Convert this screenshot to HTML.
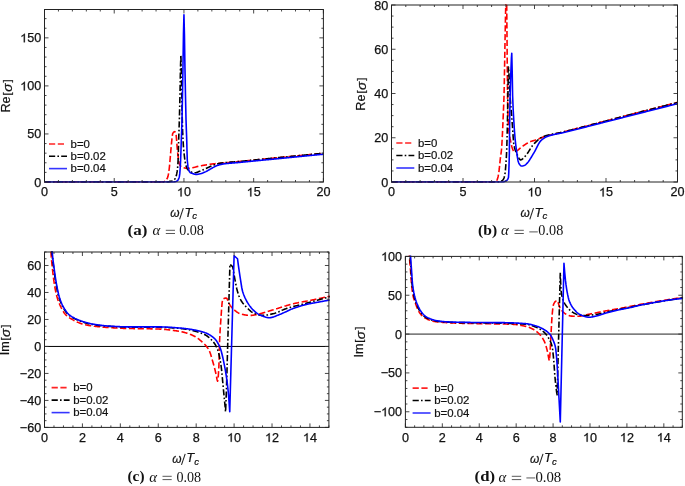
<!DOCTYPE html><html><head><meta charset="utf-8"><style>html,body{margin:0;padding:0;background:#fff;width:685px;height:486px;overflow:hidden;}svg{display:block;will-change:transform}</style></head><body>
<svg width="685" height="486" viewBox="0 0 685 486">
<rect width="685" height="486" fill="#fff"/>
<defs><clipPath id="clipa"><rect x="43.7" y="8.7" width="280.5" height="174.1"/></clipPath></defs>
<g clip-path="url(#clipa)" fill="none" stroke-width="1.6" stroke-linejoin="round">
<path d="M44.5 182 L45 182 L45.5 182 L46 182 L46.5 182 L47.01 182 L47.51 182 L48.01 182 L48.51 182 L49.01 182 L49.51 182 L50.01 182 L50.51 182 L51.01 182 L51.51 182 L52.02 182 L52.52 182 L53.02 182 L53.52 182 L54.02 182 L54.52 182 L55.02 182 L55.52 182 L56.02 182 L56.53 182 L57.03 182 L57.53 182 L58.03 182 L58.53 182 L59.03 182 L59.53 182 L60.03 182 L60.53 182 L61.03 182 L61.54 182 L62.04 182 L62.54 182 L63.04 182 L63.54 182 L64.04 182 L64.54 182 L65.04 182 L65.54 182 L66.05 182 L66.55 182 L67.05 182 L67.55 182 L68.05 182 L68.55 182 L69.05 182 L69.55 182 L70.05 182 L70.55 182 L71.06 182 L71.56 182 L72.06 182 L72.56 182 L73.06 182 L73.56 182 L74.06 182 L74.56 182 L75.06 182 L75.57 182 L76.07 182 L76.57 182 L77.07 182 L77.57 182 L78.07 182 L78.57 182 L79.07 182 L79.57 182 L80.07 182 L80.58 182 L81.08 182 L81.58 182 L82.08 182 L82.58 182 L83.08 182 L83.58 182 L84.08 182 L84.58 182 L85.09 182 L85.59 182 L86.09 182 L86.59 182 L87.09 182 L87.59 182 L88.09 182 L88.59 182 L89.09 182 L89.59 182 L90.1 182 L90.6 182 L91.1 182 L91.6 182 L92.1 182 L92.6 182 L93.1 182 L93.6 182 L94.1 182 L94.61 182 L95.11 182 L95.61 182 L96.11 182 L96.61 182 L97.11 182 L97.61 182 L98.11 182 L98.61 182 L99.11 182 L99.62 182 L100.12 182 L100.62 182 L101.12 182 L101.62 182 L102.12 182 L102.62 182 L103.12 182 L103.62 182 L104.13 182 L104.63 182 L105.13 182 L105.63 182 L106.13 182 L106.63 182 L107.13 182 L107.63 182 L108.13 182 L108.63 182 L109.14 182 L109.64 182 L110.14 182 L110.64 182 L111.14 182 L111.64 182 L112.14 182 L112.64 182 L113.14 182 L113.65 182 L114.15 182 L114.65 182 L115.15 182 L115.65 182 L116.15 182 L116.65 182 L117.15 182 L117.65 182 L118.15 182 L118.66 182 L119.16 182 L119.66 182 L120.16 182 L120.66 182 L121.16 182 L121.66 182 L122.16 182 L122.66 182 L123.17 182 L123.67 182 L124.17 182 L124.67 182 L125.17 182 L125.67 182 L126.17 182 L126.67 182 L127.17 182 L127.67 182 L128.18 182 L128.68 182 L129.18 182 L129.68 182 L130.18 182 L130.68 182 L131.18 182 L131.68 182 L132.18 182 L132.69 182 L133.19 182 L133.69 182 L134.19 182 L134.69 182 L135.19 182 L135.69 182 L136.19 182 L136.69 182 L137.2 182 L137.7 182 L138.2 182 L138.7 182 L139.2 182 L139.7 182 L140.2 182 L140.7 182 L141.2 182 L141.7 182 L142.21 182 L142.71 182 L143.21 182 L143.71 182 L144.21 182 L144.71 182 L145.21 182 L145.71 182 L146.21 182 L146.72 182 L147.22 182 L147.72 182 L148.22 182 L148.72 182 L149.22 182 L149.72 182 L150.22 182 L150.72 182 L151.22 182 L151.73 182 L152.23 182 L152.73 182 L153.23 182 L153.73 182 L154.23 182 L154.73 182 L155.23 182 L155.73 182 L156.24 182 L156.74 182 L157.24 182 L157.74 182 L158.24 182 L158.74 182 L159.24 182 L159.74 182 L160.24 182 L160.8 181.99 L161.36 181.96 L161.92 181.92 L162.47 181.87 L163.03 181.81 L163.59 181.71 L164.15 181.55 L164.71 181.33 L165.31 180.94 L165.91 180.35 L166.52 179.6 L167.22 178.42 L167.91 176.62 L168.47 174.11 L169.03 170.47 L169.52 165.91 L170 160.47 L170.7 152.28 L171.4 144.42 L172.03 137.81 L172.65 133.66 L173.31 132.57 L173.96 131.88 L174.61 131.64 L175.3 132.19 L176 133.66 L176.56 139.34 L177.12 147.12 L177.63 152.31 L178.14 156.99 L178.65 160.47 L179.28 163.38 L179.91 165.18 L180.6 166.08 L181.3 166.62 L181.83 166.94 L182.36 167.2 L182.89 167.43 L183.42 167.62 L183.95 167.78 L184.51 167.94 L185.07 168.09 L185.62 168.23 L186.18 168.32 L186.74 168.35 L187.26 168.34 L187.78 168.32 L188.31 168.28 L188.83 168.23 L189.35 168.17 L189.88 168.1 L190.4 168.04 L190.92 167.97 L191.43 167.9 L191.93 167.82 L192.43 167.73 L192.94 167.63 L193.44 167.52 L193.94 167.41 L194.45 167.29 L194.95 167.16 L195.45 167.04 L195.96 166.91 L196.46 166.78 L196.97 166.65 L197.47 166.52 L197.97 166.39 L198.48 166.27 L198.98 166.16 L199.48 166.05 L199.99 165.95 L200.51 165.85 L201.03 165.76 L201.56 165.67 L202.08 165.58 L202.6 165.49 L203.12 165.4 L203.65 165.31 L204.17 165.23 L204.69 165.15 L205.22 165.06 L205.74 164.98 L206.26 164.89 L206.77 164.81 L207.28 164.73 L207.78 164.64 L208.29 164.56 L208.8 164.48 L209.3 164.4 L209.81 164.32 L210.32 164.24 L210.83 164.16 L211.33 164.09 L211.84 164.03 L212.35 163.97 L212.85 163.91 L213.36 163.85 L213.87 163.8 L214.38 163.74 L214.88 163.69 L215.39 163.64 L215.9 163.59 L216.4 163.55 L216.91 163.5 L217.42 163.45 L218 163.4 L218.58 163.35 L219.16 163.31 L219.74 163.26 L220.32 163.21 L220.9 163.16 L221.41 163.12 L221.92 163.08 L222.43 163.03 L222.94 162.99 L223.45 162.94 L223.96 162.9 L224.47 162.85 L224.97 162.81 L225.48 162.76 L225.99 162.72 L226.5 162.67 L227.01 162.62 L227.52 162.58 L228.03 162.53 L228.54 162.48 L229.05 162.44 L229.55 162.39 L230.06 162.34 L230.57 162.3 L231.08 162.25 L231.59 162.2 L232.1 162.15 L232.61 162.11 L233.12 162.06 L233.62 162.01 L234.13 161.96 L234.64 161.92 L235.15 161.87 L235.66 161.82 L236.17 161.77 L236.68 161.72 L237.19 161.68 L237.69 161.63 L238.2 161.58 L238.71 161.53 L239.22 161.48 L239.73 161.43 L240.24 161.39 L240.74 161.34 L241.25 161.29 L241.76 161.24 L242.27 161.19 L242.77 161.14 L243.28 161.1 L243.79 161.05 L244.29 161 L244.8 160.95 L245.31 160.9 L245.82 160.85 L246.32 160.8 L246.83 160.75 L247.34 160.7 L247.84 160.65 L248.35 160.6 L248.86 160.55 L249.36 160.5 L249.87 160.46 L250.38 160.41 L250.89 160.36 L251.39 160.31 L251.9 160.26 L252.41 160.21 L252.91 160.16 L253.42 160.11 L253.93 160.06 L254.44 160.01 L254.94 159.96 L255.45 159.91 L255.96 159.86 L256.46 159.81 L256.97 159.75 L257.48 159.7 L257.99 159.65 L258.49 159.6 L259 159.55 L259.51 159.5 L260.01 159.45 L260.52 159.4 L261.03 159.35 L261.53 159.3 L262.04 159.25 L262.55 159.2 L263.06 159.15 L263.56 159.1 L264.07 159.05 L264.58 159 L265.08 158.95 L265.59 158.9 L266.1 158.85 L266.61 158.8 L267.11 158.75 L267.62 158.71 L268.13 158.66 L268.63 158.61 L269.14 158.56 L269.65 158.51 L270.16 158.46 L270.66 158.41 L271.17 158.36 L271.68 158.31 L272.18 158.26 L272.69 158.21 L273.2 158.16 L273.71 158.11 L274.21 158.06 L274.72 158.01 L275.23 157.96 L275.73 157.91 L276.24 157.86 L276.75 157.81 L277.25 157.77 L277.76 157.72 L278.27 157.67 L278.78 157.62 L279.28 157.57 L279.79 157.52 L280.3 157.47 L280.8 157.42 L281.31 157.37 L281.82 157.32 L282.33 157.27 L282.83 157.22 L283.34 157.17 L283.85 157.12 L284.35 157.07 L284.86 157.02 L285.37 156.97 L285.88 156.92 L286.38 156.88 L286.89 156.83 L287.4 156.78 L287.9 156.73 L288.41 156.68 L288.92 156.63 L289.42 156.58 L289.93 156.53 L290.44 156.48 L290.95 156.43 L291.45 156.38 L291.96 156.33 L292.47 156.28 L292.97 156.23 L293.48 156.18 L293.99 156.13 L294.5 156.08 L295 156.04 L295.51 155.99 L296.02 155.94 L296.52 155.89 L297.03 155.84 L297.54 155.79 L298.05 155.74 L298.55 155.69 L299.06 155.64 L299.57 155.59 L300.07 155.54 L300.58 155.49 L301.09 155.44 L301.6 155.39 L302.1 155.34 L302.61 155.29 L303.12 155.24 L303.62 155.19 L304.13 155.15 L304.64 155.1 L305.14 155.05 L305.65 155 L306.16 154.95 L306.67 154.9 L307.17 154.85 L307.68 154.8 L308.19 154.75 L308.69 154.7 L309.2 154.65 L309.71 154.6 L310.22 154.55 L310.72 154.5 L311.23 154.45 L311.74 154.4 L312.24 154.35 L312.75 154.3 L313.26 154.25 L313.77 154.21 L314.27 154.16 L314.78 154.11 L315.29 154.06 L315.79 154.01 L316.3 153.96 L316.81 153.91 L317.31 153.86 L317.82 153.81 L318.33 153.76 L318.84 153.71 L319.34 153.66 L319.85 153.61 L320.36 153.56 L320.86 153.51 L321.37 153.46 L321.88 153.41 L322.39 153.36 L322.89 153.32 L323.4 153.27" stroke="#f00" stroke-dasharray="6.2 2.6"/>
<path d="M44.5 182 L45 182 L45.5 182 L46 182 L46.5 182 L47 182 L47.51 182 L48.01 182 L48.51 182 L49.01 182 L49.51 182 L50.01 182 L50.51 182 L51.01 182 L51.51 182 L52.01 182 L52.51 182 L53.01 182 L53.52 182 L54.02 182 L54.52 182 L55.02 182 L55.52 182 L56.02 182 L56.52 182 L57.02 182 L57.52 182 L58.02 182 L58.52 182 L59.03 182 L59.53 182 L60.03 182 L60.53 182 L61.03 182 L61.53 182 L62.03 182 L62.53 182 L63.03 182 L63.53 182 L64.03 182 L64.54 182 L65.04 182 L65.54 182 L66.04 182 L66.54 182 L67.04 182 L67.54 182 L68.04 182 L68.54 182 L69.04 182 L69.54 182 L70.04 182 L70.55 182 L71.05 182 L71.55 182 L72.05 182 L72.55 182 L73.05 182 L73.55 182 L74.05 182 L74.55 182 L75.05 182 L75.55 182 L76.06 182 L76.56 182 L77.06 182 L77.56 182 L78.06 182 L78.56 182 L79.06 182 L79.56 182 L80.06 182 L80.56 182 L81.06 182 L81.57 182 L82.07 182 L82.57 182 L83.07 182 L83.57 182 L84.07 182 L84.57 182 L85.07 182 L85.57 182 L86.07 182 L86.57 182 L87.07 182 L87.58 182 L88.08 182 L88.58 182 L89.08 182 L89.58 182 L90.08 182 L90.58 182 L91.08 182 L91.58 182 L92.08 182 L92.58 182 L93.09 182 L93.59 182 L94.09 182 L94.59 182 L95.09 182 L95.59 182 L96.09 182 L96.59 182 L97.09 182 L97.59 182 L98.09 182 L98.6 182 L99.1 182 L99.6 182 L100.1 182 L100.6 182 L101.1 182 L101.6 182 L102.1 182 L102.6 182 L103.1 182 L103.6 182 L104.1 182 L104.61 182 L105.11 182 L105.61 182 L106.11 182 L106.61 182 L107.11 182 L107.61 182 L108.11 182 L108.61 182 L109.11 182 L109.61 182 L110.12 182 L110.62 182 L111.12 182 L111.62 182 L112.12 182 L112.62 182 L113.12 182 L113.62 182 L114.12 182 L114.62 182 L115.12 182 L115.63 182 L116.13 182 L116.63 182 L117.13 182 L117.63 182 L118.13 182 L118.63 182 L119.13 182 L119.63 182 L120.13 182 L120.63 182 L121.13 182 L121.64 182 L122.14 182 L122.64 182 L123.14 182 L123.64 182 L124.14 182 L124.64 182 L125.14 182 L125.64 182 L126.14 182 L126.64 182 L127.15 182 L127.65 182 L128.15 182 L128.65 182 L129.15 182 L129.65 182 L130.15 182 L130.65 182 L131.15 182 L131.65 182 L132.15 182 L132.66 182 L133.16 182 L133.66 182 L134.16 182 L134.66 182 L135.16 182 L135.66 182 L136.16 182 L136.66 182 L137.16 182 L137.66 182 L138.16 182 L138.67 182 L139.17 182 L139.67 182 L140.17 182 L140.67 182 L141.17 182 L141.67 182 L142.17 182 L142.67 182 L143.17 182 L143.67 182 L144.18 182 L144.68 182 L145.18 182 L145.68 182 L146.18 182 L146.68 182 L147.18 182 L147.68 182 L148.18 182 L148.68 182 L149.18 182 L149.69 182 L150.19 182 L150.69 182 L151.19 182 L151.69 182 L152.19 182 L152.69 182 L153.19 182 L153.69 182 L154.19 182 L154.69 182 L155.19 182 L155.7 182 L156.2 182 L156.7 182 L157.2 182 L157.7 182 L158.2 182 L158.7 182 L159.2 182 L159.7 182 L160.2 182 L160.7 182 L161.21 182 L161.71 182 L162.21 182 L162.71 182 L163.21 182 L163.71 182 L164.21 182 L164.71 182 L165.21 182 L165.71 182 L166.21 182 L166.72 182 L167.22 182 L167.8 181.97 L168.38 181.89 L168.96 181.78 L169.54 181.64 L170.12 181.48 L170.7 181.33 L171.23 181.18 L171.75 181 L172.27 180.8 L172.79 180.56 L173.4 180.24 L174 179.84 L174.61 179.31 L175.23 178.47 L175.86 177.19 L176.28 175.82 L176.7 173.93 L177.12 171.68 L177.54 168.55 L177.81 165.31 L178.09 160.47 L178.37 151.23 L178.65 140.39 L179 130.54 L179.35 120.3 L179.7 106.21 L180.05 90.7 L180.46 68.48 L180.88 55.15 L181.3 70.31 L181.72 94.55 L182.21 116.74 L182.69 133.66 L183.39 145.96 L184.09 153.75 L184.74 159.01 L185.39 163.13 L186.04 165.86 L186.56 167.28 L187.09 168.43 L187.61 169.32 L188.13 169.99 L188.66 170.52 L189.19 170.99 L189.72 171.37 L190.25 171.68 L190.78 171.91 L191.34 172.1 L191.9 172.28 L192.46 172.44 L193.01 172.58 L193.57 172.68 L194.13 172.75 L194.69 172.77 L195.22 172.75 L195.75 172.67 L196.28 172.54 L196.81 172.38 L197.34 172.2 L197.87 171.99 L198.4 171.77 L198.93 171.56 L199.46 171.34 L199.99 171.14 L200.53 170.94 L201.07 170.72 L201.61 170.49 L202.16 170.26 L202.7 170.01 L203.24 169.77 L203.78 169.52 L204.33 169.27 L204.87 169.03 L205.4 168.78 L205.94 168.53 L206.47 168.28 L207.01 168.02 L207.54 167.76 L208.07 167.5 L208.61 167.25 L209.14 166.99 L209.68 166.74 L210.21 166.5 L210.75 166.27 L211.28 166.05 L211.81 165.83 L212.34 165.62 L212.86 165.41 L213.39 165.21 L213.92 165.01 L214.44 164.83 L214.97 164.64 L215.5 164.48 L216.02 164.32 L216.57 164.16 L217.11 164.01 L217.65 163.86 L218.19 163.72 L218.74 163.59 L219.28 163.46 L219.82 163.35 L220.36 163.25 L220.9 163.16 L221.41 163.09 L221.92 163.02 L222.43 162.96 L222.94 162.89 L223.45 162.83 L223.96 162.77 L224.47 162.71 L224.97 162.66 L225.48 162.61 L225.99 162.56 L226.5 162.51 L227.01 162.46 L227.52 162.41 L228.03 162.37 L228.54 162.33 L229.05 162.28 L229.55 162.24 L230.06 162.2 L230.57 162.16 L231.08 162.12 L231.59 162.08 L232.1 162.05 L232.61 162.01 L233.12 161.97 L233.62 161.93 L234.13 161.89 L234.64 161.86 L235.15 161.82 L235.66 161.78 L236.17 161.74 L236.68 161.7 L237.19 161.66 L237.69 161.62 L238.2 161.57 L238.71 161.53 L239.22 161.48 L239.73 161.43 L240.24 161.39 L240.74 161.34 L241.25 161.29 L241.76 161.24 L242.27 161.19 L242.77 161.14 L243.28 161.1 L243.79 161.05 L244.29 161 L244.8 160.95 L245.31 160.9 L245.82 160.85 L246.32 160.8 L246.83 160.75 L247.34 160.7 L247.84 160.65 L248.35 160.6 L248.86 160.55 L249.36 160.5 L249.87 160.46 L250.38 160.41 L250.89 160.36 L251.39 160.31 L251.9 160.26 L252.41 160.21 L252.91 160.16 L253.42 160.11 L253.93 160.06 L254.44 160.01 L254.94 159.96 L255.45 159.91 L255.96 159.86 L256.46 159.81 L256.97 159.75 L257.48 159.7 L257.99 159.65 L258.49 159.6 L259 159.55 L259.51 159.5 L260.01 159.45 L260.52 159.4 L261.03 159.35 L261.53 159.3 L262.04 159.25 L262.55 159.2 L263.06 159.15 L263.56 159.1 L264.07 159.05 L264.58 159 L265.08 158.95 L265.59 158.9 L266.1 158.85 L266.61 158.8 L267.11 158.75 L267.62 158.71 L268.13 158.66 L268.63 158.61 L269.14 158.56 L269.65 158.51 L270.16 158.46 L270.66 158.41 L271.17 158.36 L271.68 158.31 L272.18 158.26 L272.69 158.21 L273.2 158.16 L273.71 158.11 L274.21 158.06 L274.72 158.01 L275.23 157.96 L275.73 157.91 L276.24 157.86 L276.75 157.81 L277.25 157.77 L277.76 157.72 L278.27 157.67 L278.78 157.62 L279.28 157.57 L279.79 157.52 L280.3 157.47 L280.8 157.42 L281.31 157.37 L281.82 157.32 L282.33 157.27 L282.83 157.22 L283.34 157.17 L283.85 157.12 L284.35 157.07 L284.86 157.02 L285.37 156.97 L285.88 156.92 L286.38 156.88 L286.89 156.83 L287.4 156.78 L287.9 156.73 L288.41 156.68 L288.92 156.63 L289.42 156.58 L289.93 156.53 L290.44 156.48 L290.95 156.43 L291.45 156.38 L291.96 156.33 L292.47 156.28 L292.97 156.23 L293.48 156.18 L293.99 156.13 L294.5 156.08 L295 156.04 L295.51 155.99 L296.02 155.94 L296.52 155.89 L297.03 155.84 L297.54 155.79 L298.05 155.74 L298.55 155.69 L299.06 155.64 L299.57 155.59 L300.07 155.54 L300.58 155.49 L301.09 155.44 L301.6 155.39 L302.1 155.34 L302.61 155.29 L303.12 155.24 L303.62 155.19 L304.13 155.15 L304.64 155.1 L305.14 155.05 L305.65 155 L306.16 154.95 L306.67 154.9 L307.17 154.85 L307.68 154.8 L308.19 154.75 L308.69 154.7 L309.2 154.65 L309.71 154.6 L310.22 154.55 L310.72 154.5 L311.23 154.45 L311.74 154.4 L312.24 154.35 L312.75 154.3 L313.26 154.25 L313.77 154.21 L314.27 154.16 L314.78 154.11 L315.29 154.06 L315.79 154.01 L316.3 153.96 L316.81 153.91 L317.31 153.86 L317.82 153.81 L318.33 153.76 L318.84 153.71 L319.34 153.66 L319.85 153.61 L320.36 153.56 L320.86 153.51 L321.37 153.46 L321.88 153.41 L322.39 153.36 L322.89 153.32 L323.4 153.27" stroke="#000" stroke-dasharray="6.2 2.2 1.6 2.2"/>
<path d="M44.5 182 L45 182 L45.5 182 L46 182 L46.5 182 L47 182 L47.5 182 L48 182 L48.5 182 L49 182 L49.5 182 L50 182 L50.5 182 L51 182 L51.5 182 L52 182 L52.5 182 L53 182 L53.5 182 L54 182 L54.5 182 L55 182 L55.5 182 L56 182 L56.5 182 L57 182 L57.5 182 L58 182 L58.5 182 L59 182 L59.5 182 L60 182 L60.5 182 L61 182 L61.5 182 L62 182 L62.5 182 L63 182 L63.5 182 L64 182 L64.5 182 L65 182 L65.5 182 L66 182 L66.5 182 L67 182 L67.5 182 L68 182 L68.5 182 L69 182 L69.5 182 L70 182 L70.5 182 L71 182 L71.5 182 L72 182 L72.5 182 L73 182 L73.5 182 L74 182 L74.5 182 L75 182 L75.5 182 L76 182 L76.5 182 L77 182 L77.5 182 L78 182 L78.5 182 L79 182 L79.5 182 L80 182 L80.5 182 L81 182 L81.5 182 L82 182 L82.5 182 L83 182 L83.5 182 L84 182 L84.5 182 L85 182 L85.5 182 L86 182 L86.5 182 L87 182 L87.5 182 L88 182 L88.5 182 L89 182 L89.5 182 L90 182 L90.5 182 L91 182 L91.5 182 L92 182 L92.5 182 L93 182 L93.5 182 L94 182 L94.5 182 L95 182 L95.5 182 L96 182 L96.5 182 L97 182 L97.5 182 L98 182 L98.5 182 L99 182 L99.5 182 L100 182 L100.5 182 L101 182 L101.5 182 L102 182 L102.5 182 L103 182 L103.5 182 L104 182 L104.5 182 L105 182 L105.5 182 L106 182 L106.5 182 L107 182 L107.5 182 L108 182 L108.5 182 L109 182 L109.5 182 L110 182 L110.5 182 L111 182 L111.5 182 L112 182 L112.5 182 L113 182 L113.5 182 L114 182 L114.5 182 L115 182 L115.5 182 L116 182 L116.5 182 L117 182 L117.5 182 L118 182 L118.5 182 L119 182 L119.5 182 L120 182 L120.5 182 L121 182 L121.5 182 L122 182 L122.5 182 L123 182 L123.5 182 L124 182 L124.5 182 L125 182 L125.5 182 L126 182 L126.5 182 L127 182 L127.5 182 L128 182 L128.5 182 L129 182 L129.5 182 L130 182 L130.5 182 L131 182 L131.5 182 L132 182 L132.5 182 L133 182 L133.5 182 L134 182 L134.5 182 L135 182 L135.5 182 L136 182 L136.5 182 L137 182 L137.5 182 L138 182 L138.5 182 L139 182 L139.5 182 L140 182 L140.5 182 L141 182 L141.5 182 L142 182 L142.5 182 L143 182 L143.5 182 L144 182 L144.5 182 L145 182 L145.5 182 L146 182 L146.5 182 L147 182 L147.5 182 L148 182 L148.5 182 L149 182 L149.5 182 L150 182 L150.5 182 L151 182 L151.5 182 L152 182 L152.5 182 L153 182 L153.5 182 L154 182 L154.5 182 L155 182 L155.5 182 L156 182 L156.5 182 L157 182 L157.5 182 L158 182 L158.5 182 L159 182 L159.5 182 L160 182 L160.5 182 L161 182 L161.5 182 L162 182 L162.5 182 L163 182 L163.5 182 L164 182 L164.5 182 L165 182 L165.5 182 L166 182 L166.5 182 L167 182 L167.5 182 L168 182 L168.5 182 L169 182 L169.5 182 L170 182 L170.52 182 L171.03 182 L171.54 181.99 L172.05 181.98 L172.56 181.97 L173.07 181.96 L173.58 181.94 L174.1 181.92 L174.61 181.9 L175.2 181.82 L175.79 181.63 L176.38 181.36 L176.98 181.04 L177.54 180.58 L178.09 179.89 L178.58 179 L179.07 177.68 L179.42 176.21 L179.77 173.93 L180.18 168.55 L180.6 160.47 L180.95 151.13 L181.3 140.39 L181.65 131.07 L182 120.3 L182.49 95.55 L182.97 66.68 L183.46 34.14 L183.95 14.79 L184.44 34.57 L184.93 66.68 L185.48 95.61 L186.04 120.3 L186.39 130.63 L186.74 140.39 L187.02 151.79 L187.3 160.47 L187.99 166.89 L188.69 169.89 L189.2 171.15 L189.71 172.05 L190.23 172.58 L190.83 172.92 L191.43 173.16 L192.04 173.35 L192.54 173.53 L193.05 173.71 L193.55 173.88 L194.06 174.05 L194.57 174.19 L195.07 174.31 L195.58 174.38 L196.08 174.41 L196.64 174.39 L197.2 174.34 L197.76 174.27 L198.31 174.17 L198.87 174.06 L199.43 173.95 L199.99 173.83 L200.53 173.71 L201.07 173.56 L201.61 173.39 L202.16 173.2 L202.7 173 L203.24 172.79 L203.78 172.56 L204.33 172.33 L204.87 172.1 L205.4 171.86 L205.94 171.6 L206.47 171.32 L207.01 171.03 L207.54 170.73 L208.07 170.41 L208.61 170.1 L209.14 169.78 L209.68 169.46 L210.21 169.15 L210.75 168.84 L211.28 168.55 L211.81 168.26 L212.34 167.96 L212.86 167.67 L213.39 167.37 L213.92 167.08 L214.44 166.8 L214.97 166.53 L215.5 166.28 L216.02 166.05 L216.6 165.81 L217.19 165.58 L217.77 165.36 L218.35 165.15 L218.93 164.97 L219.51 164.8 L220.09 164.64 L220.67 164.5 L221.25 164.36 L221.83 164.23 L222.41 164.12 L223 164.03 L223.5 163.96 L224.01 163.89 L224.52 163.82 L225.02 163.75 L225.53 163.69 L226.04 163.63 L226.55 163.57 L227.05 163.52 L227.56 163.46 L228.07 163.41 L228.57 163.36 L229.08 163.31 L229.59 163.26 L230.1 163.22 L230.6 163.17 L231.11 163.13 L231.62 163.09 L232.12 163.04 L232.63 163 L233.14 162.96 L233.64 162.92 L234.15 162.88 L234.66 162.84 L235.17 162.8 L235.67 162.75 L236.18 162.71 L236.69 162.67 L237.19 162.63 L237.7 162.58 L238.21 162.54 L238.72 162.49 L239.22 162.44 L239.73 162.4 L240.24 162.35 L240.74 162.3 L241.25 162.25 L241.76 162.2 L242.27 162.15 L242.77 162.1 L243.28 162.05 L243.79 162 L244.29 161.95 L244.8 161.9 L245.31 161.85 L245.82 161.8 L246.32 161.75 L246.83 161.7 L247.34 161.65 L247.84 161.6 L248.35 161.55 L248.86 161.51 L249.36 161.46 L249.87 161.41 L250.38 161.36 L250.89 161.31 L251.39 161.26 L251.9 161.21 L252.41 161.16 L252.91 161.11 L253.42 161.06 L253.93 161.01 L254.44 160.96 L254.94 160.91 L255.45 160.86 L255.96 160.81 L256.46 160.76 L256.97 160.71 L257.48 160.66 L257.99 160.62 L258.49 160.57 L259 160.52 L259.51 160.47 L260.01 160.42 L260.52 160.37 L261.03 160.32 L261.53 160.27 L262.04 160.22 L262.55 160.17 L263.06 160.12 L263.56 160.07 L264.07 160.02 L264.58 159.97 L265.08 159.92 L265.59 159.87 L266.1 159.82 L266.61 159.77 L267.11 159.73 L267.62 159.68 L268.13 159.63 L268.63 159.58 L269.14 159.53 L269.65 159.48 L270.16 159.43 L270.66 159.38 L271.17 159.33 L271.68 159.28 L272.18 159.23 L272.69 159.18 L273.2 159.13 L273.71 159.08 L274.21 159.03 L274.72 158.98 L275.23 158.93 L275.73 158.89 L276.24 158.84 L276.75 158.79 L277.25 158.74 L277.76 158.69 L278.27 158.64 L278.78 158.59 L279.28 158.54 L279.79 158.49 L280.3 158.44 L280.8 158.39 L281.31 158.34 L281.82 158.29 L282.33 158.24 L282.83 158.19 L283.34 158.14 L283.85 158.09 L284.35 158.04 L284.86 158 L285.37 157.95 L285.88 157.9 L286.38 157.85 L286.89 157.8 L287.4 157.75 L287.9 157.7 L288.41 157.65 L288.92 157.6 L289.42 157.55 L289.93 157.5 L290.44 157.45 L290.95 157.4 L291.45 157.35 L291.96 157.3 L292.47 157.25 L292.97 157.2 L293.48 157.15 L293.99 157.1 L294.5 157.06 L295 157.01 L295.51 156.96 L296.02 156.91 L296.52 156.86 L297.03 156.81 L297.54 156.76 L298.05 156.71 L298.55 156.66 L299.06 156.61 L299.57 156.56 L300.07 156.51 L300.58 156.46 L301.09 156.41 L301.6 156.36 L302.1 156.31 L302.61 156.26 L303.12 156.21 L303.62 156.16 L304.13 156.11 L304.64 156.06 L305.14 156.01 L305.65 155.96 L306.16 155.92 L306.67 155.87 L307.17 155.82 L307.68 155.77 L308.19 155.72 L308.69 155.67 L309.2 155.62 L309.71 155.57 L310.22 155.52 L310.72 155.47 L311.23 155.42 L311.74 155.37 L312.24 155.32 L312.75 155.27 L313.26 155.22 L313.77 155.17 L314.27 155.12 L314.78 155.07 L315.29 155.02 L315.79 154.97 L316.3 154.92 L316.81 154.87 L317.31 154.82 L317.82 154.77 L318.33 154.72 L318.84 154.67 L319.34 154.62 L319.85 154.57 L320.36 154.53 L320.86 154.48 L321.37 154.43 L321.88 154.38 L322.39 154.33 L322.89 154.28 L323.4 154.23" stroke="#00f"/>
</g>
<path d="M44.5 182 v-4 M44.5 9.5 v4 M58.45 182 v-2 M58.45 9.5 v2 M72.39 182 v-2 M72.39 9.5 v2 M86.33 182 v-2 M86.33 9.5 v2 M100.28 182 v-2 M100.28 9.5 v2 M114.22 182 v-4 M114.22 9.5 v4 M128.17 182 v-2 M128.17 9.5 v2 M142.12 182 v-2 M142.12 9.5 v2 M156.06 182 v-2 M156.06 9.5 v2 M170 182 v-2 M170 9.5 v2 M183.95 182 v-4 M183.95 9.5 v4 M197.89 182 v-2 M197.89 9.5 v2 M211.84 182 v-2 M211.84 9.5 v2 M225.78 182 v-2 M225.78 9.5 v2 M239.73 182 v-2 M239.73 9.5 v2 M253.67 182 v-4 M253.67 9.5 v4 M267.62 182 v-2 M267.62 9.5 v2 M281.56 182 v-2 M281.56 9.5 v2 M295.51 182 v-2 M295.51 9.5 v2 M309.45 182 v-2 M309.45 9.5 v2 M323.4 182 v-4 M323.4 9.5 v4 M44.5 182 h4 M323.4 182 h-4 M44.5 172.39 h2 M323.4 172.39 h-2 M44.5 162.78 h2 M323.4 162.78 h-2 M44.5 153.17 h2 M323.4 153.17 h-2 M44.5 143.56 h2 M323.4 143.56 h-2 M44.5 133.95 h4 M323.4 133.95 h-4 M44.5 124.34 h2 M323.4 124.34 h-2 M44.5 114.73 h2 M323.4 114.73 h-2 M44.5 105.12 h2 M323.4 105.12 h-2 M44.5 95.51 h2 M323.4 95.51 h-2 M44.5 85.9 h4 M323.4 85.9 h-4 M44.5 76.29 h2 M323.4 76.29 h-2 M44.5 66.68 h2 M323.4 66.68 h-2 M44.5 57.07 h2 M323.4 57.07 h-2 M44.5 47.46 h2 M323.4 47.46 h-2 M44.5 37.85 h4 M323.4 37.85 h-4 M44.5 28.24 h2 M323.4 28.24 h-2 M44.5 18.63 h2 M323.4 18.63 h-2" stroke="#333" stroke-width="0.9" fill="none"/>
<rect x="44.5" y="9.5" width="278.9" height="172.5" fill="none" stroke="#222" stroke-width="1"/>
<g font-family='"Liberation Sans", sans-serif' font-size="12.6" fill="#111" stroke="#111" stroke-width="0.25">
<text x="41" y="196.4">0</text>
<text x="110.72" y="196.4">5</text>
<text x="176.94" y="196.4"> 0</text><path transform="translate(176.94 196.4) scale(0.00615 -0.00615)" d="M763 0H583V1098Q518 1038 412 979Q306 920 222 890V1057Q373 1124 486 1221Q599 1318 646 1409H763Z" stroke-width="40.63"/>
<text x="246.67" y="196.4"> 5</text><path transform="translate(246.67 196.4) scale(0.00615 -0.00615)" d="M763 0H583V1098Q518 1038 412 979Q306 920 222 890V1057Q373 1124 486 1221Q599 1318 646 1409H763Z" stroke-width="40.63"/>
<text x="316.39" y="196.4">20</text>
<text x="34.19" y="186.5">0</text>
<text x="27.18" y="138.45">50</text>
<text x="20.18" y="90.4"> 00</text><path transform="translate(20.18 90.4) scale(0.00615 -0.00615)" d="M763 0H583V1098Q518 1038 412 979Q306 920 222 890V1057Q373 1124 486 1221Q599 1318 646 1409H763Z" stroke-width="40.63"/>
<text x="20.18" y="42.35"> 50</text><path transform="translate(20.18 42.35) scale(0.00615 -0.00615)" d="M763 0H583V1098Q518 1038 412 979Q306 920 222 890V1057Q373 1124 486 1221Q599 1318 646 1409H763Z" stroke-width="40.63"/>
</g>
<g fill="#111" stroke="#111" stroke-width="0.2" font-family='"Liberation Sans", sans-serif'>
<text transform="translate(10.4 0) rotate(-90)" x="-112.53" y="0" font-size="12.6">Re</text>
<text transform="translate(10.6 0) rotate(-90)" x="-95.4" y="0" font-size="11.5">[</text>
<text transform="translate(11.7 0) rotate(-90) scale(1.14 1)" x="-80.56" y="0" font-size="12.0" font-style="italic">σ</text>
<text transform="translate(10.6 0) rotate(-90)" x="-82.54" y="0" font-size="11.5">]</text>
</g>
<text x="170.3" y="217" font-family='"Liberation Sans", sans-serif' font-size="11.9" font-style="italic" fill="#111" stroke="#111" stroke-width="0.2">ω</text>
<line x1="179.6" y1="219.3" x2="183.3" y2="208.2" stroke="#222" stroke-width="1.05"/>
<text x="184.4" y="216.7" font-family='"Liberation Sans", sans-serif' font-size="13" font-style="italic" fill="#111" stroke="#111" stroke-width="0.2">T<tspan font-size="9.6" dy="2.6">c</tspan></text>
<line x1="49" y1="144" x2="64.5" y2="144" stroke="#ff2424" stroke-width="1.6" stroke-dasharray="6.2 2.6"/>
<text x="70.6" y="147.8" font-family='"Liberation Sans", sans-serif' font-size="11.4" fill="#111" stroke="#111" stroke-width="0.2">b=0</text>
<line x1="49" y1="156.3" x2="67" y2="156.3" stroke="#000" stroke-width="1.6" stroke-dasharray="6.2 2.2 1.6 2.2"/>
<text x="70.6" y="160.1" font-family='"Liberation Sans", sans-serif' font-size="11.4" fill="#111" stroke="#111" stroke-width="0.2">b=0.02</text>
<line x1="49" y1="168.6" x2="67" y2="168.6" stroke="#3535ff" stroke-width="1.6"/>
<text x="70.6" y="172.4" font-family='"Liberation Sans", sans-serif' font-size="11.4" fill="#111" stroke="#111" stroke-width="0.2">b=0.04</text>
<text transform="translate(127.45 234.7) scale(1.130 1)" font-family='"Liberation Serif", serif' font-size="15.1" font-weight="bold" fill="#111">(a)</text>
<text x="152.56" y="235.3" font-family='"Liberation Serif", serif' font-size="14.8" font-style="italic" fill="#111">α</text>
<line x1="165.8" y1="230.3" x2="175" y2="230.3" stroke="#222" stroke-width="0.75"/>
<line x1="165.8" y1="233.5" x2="175" y2="233.5" stroke="#222" stroke-width="0.75"/>
<text transform="translate(179.16 235.3) scale(1.011 1)" font-family='"Liberation Serif", serif' font-size="14.0" fill="#111">0.08</text>
<defs><clipPath id="clipb"><rect x="390.7" y="4.2" width="287.6" height="178.6"/></clipPath></defs>
<g clip-path="url(#clipb)" fill="none" stroke-width="1.6" stroke-linejoin="round">
<path d="M391.5 182 L392 182 L392.5 182 L393 182 L393.5 182 L394.01 182 L394.51 182 L395.01 182 L395.51 182 L396.01 182 L396.51 182 L397.01 182 L397.51 182 L398.02 182 L398.52 182 L399.02 182 L399.52 182 L400.02 182 L400.52 182 L401.02 182 L401.52 182 L402.03 182 L402.53 182 L403.03 182 L403.53 182 L404.03 182 L404.53 182 L405.03 182 L405.53 182 L406.03 182 L406.54 182 L407.04 182 L407.54 182 L408.04 182 L408.54 182 L409.04 182 L409.54 182 L410.04 182 L410.55 182 L411.05 182 L411.55 182 L412.05 182 L412.55 182 L413.05 182 L413.55 182 L414.05 182 L414.56 182 L415.06 182 L415.56 182 L416.06 182 L416.56 182 L417.06 182 L417.56 182 L418.06 182 L418.56 182 L419.07 182 L419.57 182 L420.07 182 L420.57 182 L421.07 182 L421.57 182 L422.07 182 L422.57 182 L423.08 182 L423.58 182 L424.08 182 L424.58 182 L425.08 182 L425.58 182 L426.08 182 L426.58 182 L427.09 182 L427.59 182 L428.09 182 L428.59 182 L429.09 182 L429.59 182 L430.09 182 L430.59 182 L431.09 182 L431.6 182 L432.1 182 L432.6 182 L433.1 182 L433.6 182 L434.1 182 L434.6 182 L435.1 182 L435.61 182 L436.11 182 L436.61 182 L437.11 182 L437.61 182 L438.11 182 L438.61 182 L439.11 182 L439.62 182 L440.12 182 L440.62 182 L441.12 182 L441.62 182 L442.12 182 L442.62 182 L443.12 182 L443.62 182 L444.13 182 L444.63 182 L445.13 182 L445.63 182 L446.13 182 L446.63 182 L447.13 182 L447.63 182 L448.14 182 L448.64 182 L449.14 182 L449.64 182 L450.14 182 L450.64 182 L451.14 182 L451.64 182 L452.15 182 L452.65 182 L453.15 182 L453.65 182 L454.15 182 L454.65 182 L455.15 182 L455.65 182 L456.15 182 L456.66 182 L457.16 182 L457.66 182 L458.16 182 L458.66 182 L459.16 182 L459.66 182 L460.16 182 L460.67 182 L461.17 182 L461.67 182 L462.17 182 L462.67 182 L463.17 182 L463.67 182 L464.17 182 L464.68 182 L465.18 182 L465.68 182 L466.18 182 L466.68 182 L467.18 182 L467.68 182 L468.18 182 L468.68 182 L469.19 182 L469.69 182 L470.19 182 L470.69 182 L471.19 182 L471.69 182 L472.19 182 L472.69 182 L473.2 182 L473.7 182 L474.2 182 L474.7 182 L475.2 182 L475.7 182 L476.2 182 L476.7 182 L477.21 182 L477.71 182 L478.21 182 L478.71 182 L479.21 182 L479.71 182 L480.21 182 L480.71 182 L481.21 182 L481.72 182 L482.22 182 L482.72 182 L483.22 182 L483.72 182 L484.22 182 L484.72 182 L485.22 182 L485.73 182 L486.23 182 L486.73 182 L487.23 182 L487.73 182 L488.23 182 L488.73 182 L489.23 182 L489.74 182 L490.24 182 L490.74 182 L491.24 182 L491.74 182 L492.24 182 L492.74 182 L493.24 182 L493.75 182 L494.28 181.95 L494.82 181.81 L495.35 181.6 L495.89 181.34 L496.61 180.62 L497.32 179.34 L498.04 176.92 L498.75 173.15 L499.27 168.96 L499.8 163.58 L500.32 158.55 L500.89 154.54 L501.47 149.92 L501.97 142.73 L502.47 133.32 L502.97 122.39 L503.47 110.09 L503.75 103.26 L504.04 95.05 L504.54 69.44 L505.04 39.96 L505.47 17.31 L505.9 0.58 L506.19 -5.45 L506.47 -8.28 L506.76 9.14 L507.04 40.18 L507.33 74.56 L507.62 102.35 L507.97 116.44 L508.33 124.47 L508.9 131.28 L509.48 135.54 L509.98 138.2 L510.48 140.41 L511.1 143.4 L511.72 146.27 L512.34 148.37 L512.87 149.65 L513.41 150.79 L513.94 151.6 L514.48 151.91 L515.05 151.83 L515.62 151.61 L516.2 151.3 L516.77 150.94 L517.34 150.58 L517.91 150.18 L518.48 149.7 L519.06 149.17 L519.63 148.64 L520.2 148.15 L520.77 147.69 L521.34 147.23 L521.92 146.78 L522.49 146.34 L523.06 145.94 L523.57 145.59 L524.07 145.24 L524.58 144.89 L525.08 144.55 L525.59 144.22 L526.1 143.89 L526.6 143.57 L527.11 143.26 L527.61 142.97 L528.12 142.69 L528.63 142.43 L529.13 142.18 L529.64 141.95 L530.15 141.74 L530.67 141.55 L531.19 141.36 L531.71 141.19 L532.22 141.03 L532.74 140.87 L533.26 140.71 L533.77 140.56 L534.29 140.41 L534.81 140.25 L535.33 140.09 L535.84 139.92 L536.36 139.74 L536.88 139.55 L537.39 139.35 L537.91 139.14 L538.43 138.93 L538.94 138.71 L539.46 138.49 L539.98 138.27 L540.5 138.06 L541.01 137.85 L541.53 137.64 L542.05 137.44 L542.56 137.26 L543.08 137.09 L543.58 136.93 L544.08 136.77 L544.58 136.62 L545.08 136.47 L545.58 136.32 L546.08 136.18 L546.58 136.04 L547.08 135.9 L547.58 135.76 L548.09 135.63 L548.59 135.5 L549.09 135.37 L549.59 135.24 L550.09 135.11 L550.59 134.99 L551.09 134.86 L551.59 134.74 L552.09 134.62 L552.59 134.5 L553.09 134.38 L553.59 134.26 L554.09 134.14 L554.59 134.03 L555.09 133.91 L555.59 133.79 L556.09 133.68 L556.59 133.56 L557.09 133.44 L557.59 133.33 L558.1 133.21 L558.6 133.09 L559.1 132.98 L559.6 132.86 L560.1 132.74 L560.6 132.62 L561.1 132.5 L561.6 132.37 L562.1 132.25 L562.6 132.12 L563.1 132 L563.6 131.87 L564.11 131.74 L564.61 131.61 L565.12 131.48 L565.62 131.35 L566.13 131.22 L566.63 131.09 L567.14 130.96 L567.64 130.83 L568.15 130.7 L568.65 130.58 L569.16 130.45 L569.66 130.32 L570.17 130.19 L570.67 130.06 L571.18 129.93 L571.68 129.8 L572.18 129.67 L572.69 129.54 L573.19 129.41 L573.7 129.28 L574.2 129.15 L574.71 129.02 L575.21 128.89 L575.72 128.76 L576.22 128.63 L576.73 128.5 L577.23 128.37 L577.74 128.24 L578.24 128.11 L578.75 127.98 L579.25 127.85 L579.76 127.72 L580.26 127.59 L580.76 127.46 L581.27 127.33 L581.77 127.2 L582.28 127.07 L582.78 126.94 L583.29 126.81 L583.79 126.68 L584.3 126.55 L584.8 126.42 L585.31 126.29 L585.81 126.16 L586.32 126.03 L586.82 125.9 L587.33 125.77 L587.83 125.64 L588.34 125.51 L588.84 125.38 L589.34 125.24 L589.85 125.11 L590.35 124.98 L590.86 124.85 L591.36 124.72 L591.87 124.59 L592.37 124.46 L592.88 124.33 L593.38 124.2 L593.89 124.07 L594.39 123.94 L594.9 123.81 L595.4 123.68 L595.91 123.55 L596.41 123.42 L596.92 123.29 L597.42 123.16 L597.92 123.03 L598.43 122.89 L598.93 122.76 L599.44 122.63 L599.94 122.5 L600.45 122.37 L600.95 122.24 L601.46 122.11 L601.96 121.98 L602.47 121.85 L602.97 121.72 L603.48 121.59 L603.98 121.46 L604.49 121.33 L604.99 121.2 L605.5 121.07 L606 120.94 L606.5 120.8 L607.01 120.67 L607.51 120.54 L608.01 120.41 L608.52 120.28 L609.02 120.15 L609.52 120.02 L610.03 119.89 L610.53 119.76 L611.04 119.63 L611.54 119.5 L612.04 119.37 L612.55 119.24 L613.05 119.11 L613.55 118.98 L614.06 118.85 L614.56 118.72 L615.06 118.58 L615.57 118.45 L616.07 118.32 L616.57 118.19 L617.08 118.06 L617.58 117.93 L618.08 117.8 L618.59 117.67 L619.09 117.54 L619.6 117.41 L620.1 117.28 L620.6 117.14 L621.11 117.01 L621.61 116.88 L622.11 116.75 L622.62 116.62 L623.12 116.49 L623.62 116.36 L624.13 116.23 L624.63 116.1 L625.13 115.97 L625.64 115.83 L626.14 115.7 L626.64 115.57 L627.15 115.44 L627.65 115.31 L628.15 115.18 L628.66 115.05 L629.16 114.92 L629.67 114.79 L630.17 114.66 L630.67 114.52 L631.18 114.39 L631.68 114.26 L632.18 114.13 L632.69 114 L633.19 113.87 L633.69 113.74 L634.2 113.61 L634.7 113.48 L635.2 113.34 L635.71 113.21 L636.21 113.08 L636.71 112.95 L637.22 112.82 L637.72 112.69 L638.23 112.56 L638.73 112.43 L639.23 112.3 L639.74 112.17 L640.24 112.04 L640.74 111.9 L641.25 111.77 L641.75 111.64 L642.25 111.51 L642.76 111.38 L643.26 111.25 L643.76 111.12 L644.27 110.99 L644.77 110.86 L645.27 110.73 L645.78 110.6 L646.28 110.46 L646.79 110.33 L647.29 110.2 L647.79 110.07 L648.3 109.94 L648.8 109.81 L649.3 109.68 L649.81 109.55 L650.31 109.42 L650.81 109.29 L651.32 109.16 L651.82 109.02 L652.32 108.89 L652.83 108.76 L653.33 108.63 L653.83 108.5 L654.34 108.37 L654.84 108.24 L655.35 108.11 L655.85 107.98 L656.35 107.85 L656.86 107.72 L657.36 107.59 L657.86 107.45 L658.37 107.32 L658.87 107.19 L659.37 107.06 L659.88 106.93 L660.38 106.8 L660.88 106.67 L661.39 106.54 L661.89 106.41 L662.39 106.28 L662.9 106.15 L663.4 106.01 L663.9 105.88 L664.41 105.75 L664.91 105.62 L665.42 105.49 L665.92 105.36 L666.42 105.23 L666.93 105.1 L667.43 104.97 L667.93 104.84 L668.44 104.71 L668.94 104.57 L669.44 104.44 L669.95 104.31 L670.45 104.18 L670.95 104.05 L671.46 103.92 L671.96 103.79 L672.46 103.66 L672.97 103.53 L673.47 103.4 L673.98 103.27 L674.48 103.14 L674.98 103 L675.49 102.87 L675.99 102.74 L676.49 102.61 L677 102.48 L677.5 102.35" stroke="#f00" stroke-dasharray="6.2 2.6"/>
<path d="M391.5 182 L392 182 L392.5 182 L393 182 L393.5 182 L394.01 182 L394.51 182 L395.01 182 L395.51 182 L396.01 182 L396.51 182 L397.01 182 L397.51 182 L398.02 182 L398.52 182 L399.02 182 L399.52 182 L400.02 182 L400.52 182 L401.02 182 L401.52 182 L402.02 182 L402.53 182 L403.03 182 L403.53 182 L404.03 182 L404.53 182 L405.03 182 L405.53 182 L406.03 182 L406.54 182 L407.04 182 L407.54 182 L408.04 182 L408.54 182 L409.04 182 L409.54 182 L410.04 182 L410.54 182 L411.05 182 L411.55 182 L412.05 182 L412.55 182 L413.05 182 L413.55 182 L414.05 182 L414.55 182 L415.05 182 L415.56 182 L416.06 182 L416.56 182 L417.06 182 L417.56 182 L418.06 182 L418.56 182 L419.06 182 L419.57 182 L420.07 182 L420.57 182 L421.07 182 L421.57 182 L422.07 182 L422.57 182 L423.07 182 L423.57 182 L424.08 182 L424.58 182 L425.08 182 L425.58 182 L426.08 182 L426.58 182 L427.08 182 L427.58 182 L428.09 182 L428.59 182 L429.09 182 L429.59 182 L430.09 182 L430.59 182 L431.09 182 L431.59 182 L432.09 182 L432.6 182 L433.1 182 L433.6 182 L434.1 182 L434.6 182 L435.1 182 L435.6 182 L436.1 182 L436.61 182 L437.11 182 L437.61 182 L438.11 182 L438.61 182 L439.11 182 L439.61 182 L440.11 182 L440.61 182 L441.12 182 L441.62 182 L442.12 182 L442.62 182 L443.12 182 L443.62 182 L444.12 182 L444.62 182 L445.12 182 L445.63 182 L446.13 182 L446.63 182 L447.13 182 L447.63 182 L448.13 182 L448.63 182 L449.13 182 L449.64 182 L450.14 182 L450.64 182 L451.14 182 L451.64 182 L452.14 182 L452.64 182 L453.14 182 L453.64 182 L454.15 182 L454.65 182 L455.15 182 L455.65 182 L456.15 182 L456.65 182 L457.15 182 L457.65 182 L458.16 182 L458.66 182 L459.16 182 L459.66 182 L460.16 182 L460.66 182 L461.16 182 L461.66 182 L462.16 182 L462.67 182 L463.17 182 L463.67 182 L464.17 182 L464.67 182 L465.17 182 L465.67 182 L466.17 182 L466.68 182 L467.18 182 L467.68 182 L468.18 182 L468.68 182 L469.18 182 L469.68 182 L470.18 182 L470.68 182 L471.19 182 L471.69 182 L472.19 182 L472.69 182 L473.19 182 L473.69 182 L474.19 182 L474.69 182 L475.2 182 L475.7 182 L476.2 182 L476.7 182 L477.2 182 L477.7 182 L478.2 182 L478.7 182 L479.2 182 L479.71 182 L480.21 182 L480.71 182 L481.21 182 L481.71 182 L482.21 182 L482.71 182 L483.21 182 L483.71 182 L484.22 182 L484.72 182 L485.22 182 L485.72 182 L486.22 182 L486.72 182 L487.22 182 L487.72 182 L488.23 182 L488.73 182 L489.23 182 L489.73 182 L490.23 182 L490.73 182 L491.23 182 L491.73 182 L492.23 182 L492.74 182 L493.24 182 L493.74 182 L494.24 182 L494.74 182 L495.24 182 L495.74 182 L496.24 182 L496.75 182 L497.25 182 L497.75 182 L498.25 182 L498.75 182 L499.37 181.89 L499.99 181.63 L500.61 181.34 L501.22 181.06 L501.82 180.75 L502.43 180.34 L503.04 179.79 L503.61 178.91 L504.18 177.45 L504.76 175.36 L505.33 171.05 L505.9 164.3 L506.33 157.89 L506.76 148.81 L507.04 139.17 L507.33 126.69 L507.62 111.7 L507.9 95.71 L508.19 77.6 L508.47 66.95 L508.76 70.16 L509.05 75.8 L509.62 87.11 L510.19 97.92 L510.91 107.23 L511.62 115.62 L512.05 121.11 L512.48 126.69 L513.12 136.39 L513.76 143.94 L514.48 147.53 L515.2 149.92 L515.77 151.5 L516.34 152.8 L516.88 153.95 L517.41 155.15 L517.95 156.34 L518.48 157.45 L519.02 158.42 L519.56 159.19 L520.09 159.69 L520.63 159.88 L521.18 159.78 L521.74 159.53 L522.29 159.14 L522.85 158.65 L523.4 158.1 L523.95 157.5 L524.51 156.91 L525.06 156.34 L525.58 155.79 L526.11 155.17 L526.63 154.5 L527.15 153.78 L527.67 153.02 L528.19 152.24 L528.71 151.42 L529.23 150.6 L529.76 149.77 L530.28 148.94 L530.8 148.13 L531.32 147.33 L531.84 146.56 L532.36 145.83 L532.88 145.15 L533.41 144.51 L533.93 143.94 L534.44 143.42 L534.95 142.9 L535.47 142.38 L535.98 141.87 L536.49 141.37 L537.01 140.88 L537.52 140.4 L538.03 139.94 L538.55 139.5 L539.06 139.08 L539.57 138.68 L540.09 138.3 L540.6 137.95 L541.11 137.63 L541.62 137.34 L542.14 137.09 L542.65 136.87 L543.16 136.67 L543.67 136.48 L544.18 136.29 L544.7 136.12 L545.21 135.95 L545.72 135.79 L546.23 135.63 L546.74 135.48 L547.25 135.34 L547.76 135.2 L548.27 135.07 L548.79 134.94 L549.3 134.81 L549.81 134.69 L550.32 134.58 L550.83 134.47 L551.34 134.36 L551.85 134.25 L552.36 134.15 L552.88 134.05 L553.39 133.95 L553.9 133.85 L554.41 133.75 L554.92 133.66 L555.43 133.56 L555.94 133.47 L556.45 133.37 L556.97 133.28 L557.48 133.18 L557.99 133.09 L558.5 132.99 L559.01 132.89 L559.52 132.79 L560.03 132.68 L560.54 132.58 L561.06 132.47 L561.57 132.36 L562.08 132.24 L562.59 132.12 L563.1 132 L563.6 131.87 L564.11 131.75 L564.61 131.62 L565.12 131.5 L565.62 131.37 L566.13 131.25 L566.63 131.12 L567.14 130.99 L567.64 130.87 L568.15 130.74 L568.65 130.61 L569.16 130.49 L569.66 130.36 L570.17 130.23 L570.67 130.11 L571.18 129.98 L571.68 129.85 L572.18 129.72 L572.69 129.59 L573.19 129.46 L573.7 129.34 L574.2 129.21 L574.71 129.08 L575.21 128.95 L575.72 128.82 L576.22 128.69 L576.73 128.56 L577.23 128.43 L577.74 128.3 L578.24 128.17 L578.75 128.04 L579.25 127.91 L579.76 127.78 L580.26 127.65 L580.76 127.52 L581.27 127.39 L581.77 127.26 L582.28 127.12 L582.78 126.99 L583.29 126.86 L583.79 126.73 L584.3 126.6 L584.8 126.47 L585.31 126.34 L585.81 126.2 L586.32 126.07 L586.82 125.94 L587.33 125.81 L587.83 125.68 L588.34 125.55 L588.84 125.41 L589.34 125.28 L589.85 125.15 L590.35 125.02 L590.86 124.89 L591.36 124.75 L591.87 124.62 L592.37 124.49 L592.88 124.36 L593.38 124.23 L593.89 124.09 L594.39 123.96 L594.9 123.83 L595.4 123.7 L595.91 123.57 L596.41 123.43 L596.92 123.3 L597.42 123.17 L597.92 123.04 L598.43 122.91 L598.93 122.77 L599.44 122.64 L599.94 122.51 L600.45 122.38 L600.95 122.25 L601.46 122.12 L601.96 121.98 L602.47 121.85 L602.97 121.72 L603.48 121.59 L603.98 121.46 L604.49 121.33 L604.99 121.2 L605.5 121.07 L606 120.94 L606.5 120.8 L607.01 120.67 L607.51 120.54 L608.01 120.41 L608.52 120.28 L609.02 120.15 L609.52 120.02 L610.03 119.89 L610.53 119.76 L611.04 119.63 L611.54 119.5 L612.04 119.37 L612.55 119.23 L613.05 119.1 L613.55 118.97 L614.06 118.84 L614.56 118.71 L615.06 118.58 L615.57 118.45 L616.07 118.32 L616.57 118.18 L617.08 118.05 L617.58 117.92 L618.08 117.79 L618.59 117.66 L619.09 117.53 L619.6 117.4 L620.1 117.27 L620.6 117.13 L621.11 117 L621.61 116.87 L622.11 116.74 L622.62 116.61 L623.12 116.48 L623.62 116.34 L624.13 116.21 L624.63 116.08 L625.13 115.95 L625.64 115.82 L626.14 115.69 L626.64 115.56 L627.15 115.43 L627.65 115.29 L628.15 115.16 L628.66 115.03 L629.16 114.9 L629.67 114.77 L630.17 114.64 L630.67 114.51 L631.18 114.38 L631.68 114.25 L632.18 114.12 L632.69 113.98 L633.19 113.85 L633.69 113.72 L634.2 113.59 L634.7 113.46 L635.2 113.33 L635.71 113.2 L636.21 113.07 L636.71 112.94 L637.22 112.81 L637.72 112.68 L638.23 112.55 L638.73 112.42 L639.23 112.29 L639.74 112.16 L640.24 112.03 L640.74 111.9 L641.25 111.77 L641.75 111.64 L642.25 111.51 L642.76 111.38 L643.26 111.25 L643.76 111.13 L644.27 111 L644.77 110.87 L645.27 110.74 L645.78 110.61 L646.28 110.48 L646.79 110.35 L647.29 110.22 L647.79 110.09 L648.3 109.97 L648.8 109.84 L649.3 109.71 L649.81 109.58 L650.31 109.45 L650.81 109.32 L651.32 109.19 L651.82 109.07 L652.32 108.94 L652.83 108.81 L653.33 108.68 L653.83 108.55 L654.34 108.42 L654.84 108.3 L655.35 108.17 L655.85 108.04 L656.35 107.91 L656.86 107.78 L657.36 107.65 L657.86 107.53 L658.37 107.4 L658.87 107.27 L659.37 107.14 L659.88 107.02 L660.38 106.89 L660.88 106.76 L661.39 106.63 L661.89 106.5 L662.39 106.38 L662.9 106.25 L663.4 106.12 L663.9 105.99 L664.41 105.87 L664.91 105.74 L665.42 105.61 L665.92 105.49 L666.42 105.36 L666.93 105.23 L667.43 105.1 L667.93 104.98 L668.44 104.85 L668.94 104.72 L669.44 104.6 L669.95 104.47 L670.45 104.34 L670.95 104.22 L671.46 104.09 L671.96 103.96 L672.46 103.84 L672.97 103.71 L673.47 103.58 L673.98 103.46 L674.48 103.33 L674.98 103.2 L675.49 103.08 L675.99 102.95 L676.49 102.82 L677 102.7 L677.5 102.57" stroke="#000" stroke-dasharray="6.2 2.2 1.6 2.2"/>
<path d="M391.5 182 L392 182 L392.5 182 L393 182 L393.5 182 L394 182 L394.5 182 L395 182 L395.5 182 L396 182 L396.5 182 L397 182 L397.5 182 L398 182 L398.5 182 L399 182 L399.5 182 L400 182 L400.5 182 L401 182 L401.5 182 L402 182 L402.5 182 L403 182 L403.5 182 L404 182 L404.5 182 L405 182 L405.51 182 L406.01 182 L406.51 182 L407.01 182 L407.51 182 L408.01 182 L408.51 182 L409.01 182 L409.51 182 L410.01 182 L410.51 182 L411.01 182 L411.51 182 L412.01 182 L412.51 182 L413.01 182 L413.51 182 L414.01 182 L414.51 182 L415.01 182 L415.51 182 L416.01 182 L416.51 182 L417.01 182 L417.51 182 L418.01 182 L418.51 182 L419.01 182 L419.51 182 L420.01 182 L420.51 182 L421.01 182 L421.51 182 L422.01 182 L422.51 182 L423.01 182 L423.51 182 L424.01 182 L424.51 182 L425.01 182 L425.51 182 L426.01 182 L426.51 182 L427.01 182 L427.51 182 L428.01 182 L428.51 182 L429.01 182 L429.51 182 L430.01 182 L430.51 182 L431.01 182 L431.51 182 L432.01 182 L432.51 182 L433.01 182 L433.52 182 L434.02 182 L434.52 182 L435.02 182 L435.52 182 L436.02 182 L436.52 182 L437.02 182 L437.52 182 L438.02 182 L438.52 182 L439.02 182 L439.52 182 L440.02 182 L440.52 182 L441.02 182 L441.52 182 L442.02 182 L442.52 182 L443.02 182 L443.52 182 L444.02 182 L444.52 182 L445.02 182 L445.52 182 L446.02 182 L446.52 182 L447.02 182 L447.52 182 L448.02 182 L448.52 182 L449.02 182 L449.52 182 L450.02 182 L450.52 182 L451.02 182 L451.52 182 L452.02 182 L452.52 182 L453.02 182 L453.52 182 L454.02 182 L454.52 182 L455.02 182 L455.52 182 L456.02 182 L456.52 182 L457.02 182 L457.52 182 L458.02 182 L458.52 182 L459.02 182 L459.52 182 L460.02 182 L460.52 182 L461.02 182 L461.53 182 L462.03 182 L462.53 182 L463.03 182 L463.53 182 L464.03 182 L464.53 182 L465.03 182 L465.53 182 L466.03 182 L466.53 182 L467.03 182 L467.53 182 L468.03 182 L468.53 182 L469.03 182 L469.53 182 L470.03 182 L470.53 182 L471.03 182 L471.53 182 L472.03 182 L472.53 182 L473.03 182 L473.53 182 L474.03 182 L474.53 182 L475.03 182 L475.53 182 L476.03 182 L476.53 182 L477.03 182 L477.53 182 L478.03 182 L478.53 182 L479.03 182 L479.53 182 L480.03 182 L480.53 182 L481.03 182 L481.53 182 L482.03 182 L482.53 182 L483.03 182 L483.53 182 L484.03 182 L484.53 182 L485.03 182 L485.53 182 L486.03 182 L486.53 182 L487.03 182 L487.53 182 L488.03 182 L488.53 182 L489.03 182 L489.54 182 L490.04 182 L490.54 182 L491.04 182 L491.54 182 L492.04 182 L492.54 182 L493.04 182 L493.54 182 L494.04 182 L494.54 182 L495.04 182 L495.54 182 L496.04 182 L496.54 182 L497.04 182 L497.54 182 L498.04 182 L498.54 182 L499.04 182 L499.54 182 L500.04 182 L500.54 182 L501.04 182 L501.54 182 L502.04 182 L502.54 182 L503.04 182 L503.54 181.94 L504.04 181.78 L504.54 181.56 L505.04 181.34 L505.61 181.07 L506.19 180.74 L506.76 180.32 L507.33 179.79 L507.9 179.09 L508.47 177.57 L508.76 172.79 L509.05 164.3 L509.19 159.57 L509.33 153.24 L509.55 135.11 L509.76 115.62 L509.98 103.21 L510.19 93.5 L510.62 78.48 L511.05 66.95 L511.41 57.99 L511.76 53.23 L512.19 71.22 L512.62 95.71 L513.19 109.79 L513.76 120.05 L514.48 131.24 L515.2 139.96 L515.91 146.1 L516.62 151.25 L517.34 156.8 L518.06 160.98 L518.77 163.03 L519.49 164.3 L520.02 164.96 L520.56 165.52 L521.09 165.92 L521.63 166.07 L522.2 166.03 L522.77 165.94 L523.35 165.79 L523.92 165.61 L524.49 165.41 L525.1 165.09 L525.71 164.61 L526.31 164.03 L526.92 163.41 L527.42 162.88 L527.92 162.28 L528.42 161.63 L528.92 160.93 L529.42 160.2 L529.92 159.43 L530.42 158.63 L530.92 157.82 L531.43 156.98 L531.93 156.14 L532.43 155.29 L532.93 154.45 L533.43 153.61 L533.93 152.8 L534.43 151.95 L534.93 151.04 L535.43 150.09 L535.93 149.11 L536.43 148.11 L536.93 147.1 L537.43 146.1 L537.93 145.13 L538.43 144.2 L538.93 143.32 L539.43 142.51 L539.93 141.78 L540.43 141.15 L540.93 140.63 L541.44 140.17 L541.94 139.74 L542.44 139.34 L542.94 138.95 L543.44 138.59 L543.94 138.24 L544.44 137.92 L544.94 137.62 L545.44 137.33 L545.94 137.07 L546.44 136.82 L546.94 136.6 L547.44 136.39 L547.94 136.2 L548.45 136.02 L548.95 135.85 L549.46 135.69 L549.96 135.54 L550.47 135.39 L550.97 135.25 L551.48 135.11 L551.98 134.99 L552.49 134.86 L552.99 134.74 L553.5 134.63 L554.01 134.52 L554.51 134.41 L555.02 134.31 L555.52 134.2 L556.03 134.1 L556.53 134.01 L557.04 133.91 L557.54 133.81 L558.05 133.72 L558.55 133.62 L559.06 133.52 L559.56 133.42 L560.07 133.32 L560.57 133.22 L561.08 133.12 L561.58 133.01 L562.09 132.9 L562.59 132.78 L563.1 132.66 L563.6 132.54 L564.11 132.42 L564.61 132.29 L565.12 132.17 L565.62 132.05 L566.13 131.93 L566.63 131.8 L567.14 131.68 L567.64 131.56 L568.15 131.43 L568.65 131.31 L569.16 131.18 L569.66 131.06 L570.17 130.93 L570.67 130.81 L571.18 130.68 L571.68 130.56 L572.18 130.43 L572.69 130.31 L573.19 130.18 L573.7 130.05 L574.2 129.93 L574.71 129.8 L575.21 129.67 L575.72 129.55 L576.22 129.42 L576.73 129.29 L577.23 129.16 L577.74 129.04 L578.24 128.91 L578.75 128.78 L579.25 128.65 L579.76 128.53 L580.26 128.4 L580.76 128.27 L581.27 128.14 L581.77 128.01 L582.28 127.88 L582.78 127.76 L583.29 127.63 L583.79 127.5 L584.3 127.37 L584.8 127.24 L585.31 127.11 L585.81 126.98 L586.32 126.85 L586.82 126.72 L587.33 126.59 L587.83 126.47 L588.34 126.34 L588.84 126.21 L589.34 126.08 L589.85 125.95 L590.35 125.82 L590.86 125.69 L591.36 125.56 L591.87 125.43 L592.37 125.3 L592.88 125.17 L593.38 125.04 L593.89 124.91 L594.39 124.78 L594.9 124.65 L595.4 124.52 L595.91 124.39 L596.41 124.27 L596.92 124.14 L597.42 124.01 L597.92 123.88 L598.43 123.75 L598.93 123.62 L599.44 123.49 L599.94 123.36 L600.45 123.23 L600.95 123.1 L601.46 122.97 L601.96 122.85 L602.47 122.72 L602.97 122.59 L603.48 122.46 L603.98 122.33 L604.49 122.2 L604.99 122.08 L605.5 121.95 L606 121.82 L606.5 121.69 L607.01 121.56 L607.51 121.44 L608.01 121.31 L608.52 121.18 L609.02 121.05 L609.52 120.93 L610.03 120.8 L610.53 120.67 L611.04 120.54 L611.54 120.42 L612.04 120.29 L612.55 120.16 L613.05 120.03 L613.55 119.91 L614.06 119.78 L614.56 119.65 L615.06 119.52 L615.57 119.4 L616.07 119.27 L616.57 119.14 L617.08 119.01 L617.58 118.88 L618.08 118.76 L618.59 118.63 L619.09 118.5 L619.6 118.37 L620.1 118.25 L620.6 118.12 L621.11 117.99 L621.61 117.86 L622.11 117.73 L622.62 117.61 L623.12 117.48 L623.62 117.35 L624.13 117.22 L624.63 117.09 L625.13 116.97 L625.64 116.84 L626.14 116.71 L626.64 116.58 L627.15 116.46 L627.65 116.33 L628.15 116.2 L628.66 116.07 L629.16 115.94 L629.67 115.82 L630.17 115.69 L630.67 115.56 L631.18 115.43 L631.68 115.31 L632.18 115.18 L632.69 115.05 L633.19 114.92 L633.69 114.79 L634.2 114.67 L634.7 114.54 L635.2 114.41 L635.71 114.28 L636.21 114.15 L636.71 114.03 L637.22 113.9 L637.72 113.77 L638.23 113.64 L638.73 113.52 L639.23 113.39 L639.74 113.26 L640.24 113.13 L640.74 113 L641.25 112.88 L641.75 112.75 L642.25 112.62 L642.76 112.49 L643.26 112.37 L643.76 112.24 L644.27 112.11 L644.77 111.98 L645.27 111.85 L645.78 111.73 L646.28 111.6 L646.79 111.47 L647.29 111.34 L647.79 111.22 L648.3 111.09 L648.8 110.96 L649.3 110.83 L649.81 110.7 L650.31 110.58 L650.81 110.45 L651.32 110.32 L651.82 110.19 L652.32 110.07 L652.83 109.94 L653.33 109.81 L653.83 109.68 L654.34 109.55 L654.84 109.43 L655.35 109.3 L655.85 109.17 L656.35 109.04 L656.86 108.92 L657.36 108.79 L657.86 108.66 L658.37 108.53 L658.87 108.4 L659.37 108.28 L659.88 108.15 L660.38 108.02 L660.88 107.89 L661.39 107.77 L661.89 107.64 L662.39 107.51 L662.9 107.38 L663.4 107.25 L663.9 107.13 L664.41 107 L664.91 106.87 L665.42 106.74 L665.92 106.62 L666.42 106.49 L666.93 106.36 L667.43 106.23 L667.93 106.11 L668.44 105.98 L668.94 105.85 L669.44 105.72 L669.95 105.59 L670.45 105.47 L670.95 105.34 L671.46 105.21 L671.96 105.08 L672.46 104.96 L672.97 104.83 L673.47 104.7 L673.98 104.57 L674.48 104.44 L674.98 104.32 L675.49 104.19 L675.99 104.06 L676.49 103.93 L677 103.81 L677.5 103.68" stroke="#00f"/>
</g>
<path d="M391.5 182 v-4 M391.5 5 v4 M405.8 182 v-2 M405.8 5 v2 M420.1 182 v-2 M420.1 5 v2 M434.4 182 v-2 M434.4 5 v2 M448.7 182 v-2 M448.7 5 v2 M463 182 v-4 M463 5 v4 M477.3 182 v-2 M477.3 5 v2 M491.6 182 v-2 M491.6 5 v2 M505.9 182 v-2 M505.9 5 v2 M520.2 182 v-2 M520.2 5 v2 M534.5 182 v-4 M534.5 5 v4 M548.8 182 v-2 M548.8 5 v2 M563.1 182 v-2 M563.1 5 v2 M577.4 182 v-2 M577.4 5 v2 M591.7 182 v-2 M591.7 5 v2 M606 182 v-4 M606 5 v4 M620.3 182 v-2 M620.3 5 v2 M634.6 182 v-2 M634.6 5 v2 M648.9 182 v-2 M648.9 5 v2 M663.2 182 v-2 M663.2 5 v2 M677.5 182 v-4 M677.5 5 v4 M391.5 182 h4 M677.5 182 h-4 M391.5 170.94 h2 M677.5 170.94 h-2 M391.5 159.88 h2 M677.5 159.88 h-2 M391.5 148.81 h2 M677.5 148.81 h-2 M391.5 137.75 h4 M677.5 137.75 h-4 M391.5 126.69 h2 M677.5 126.69 h-2 M391.5 115.62 h2 M677.5 115.62 h-2 M391.5 104.56 h2 M677.5 104.56 h-2 M391.5 93.5 h4 M677.5 93.5 h-4 M391.5 82.44 h2 M677.5 82.44 h-2 M391.5 71.38 h2 M677.5 71.38 h-2 M391.5 60.31 h2 M677.5 60.31 h-2 M391.5 49.25 h4 M677.5 49.25 h-4 M391.5 38.19 h2 M677.5 38.19 h-2 M391.5 27.12 h2 M677.5 27.12 h-2 M391.5 16.06 h2 M677.5 16.06 h-2 M391.5 5 h4 M677.5 5 h-4" stroke="#333" stroke-width="0.9" fill="none"/>
<rect x="391.5" y="5" width="286" height="177" fill="none" stroke="#222" stroke-width="1"/>
<g font-family='"Liberation Sans", sans-serif' font-size="12.6" fill="#111" stroke="#111" stroke-width="0.25">
<text x="388" y="196.4">0</text>
<text x="459.5" y="196.4">5</text>
<text x="527.49" y="196.4"> 0</text><path transform="translate(527.49 196.4) scale(0.00615 -0.00615)" d="M763 0H583V1098Q518 1038 412 979Q306 920 222 890V1057Q373 1124 486 1221Q599 1318 646 1409H763Z" stroke-width="40.63"/>
<text x="598.99" y="196.4"> 5</text><path transform="translate(598.99 196.4) scale(0.00615 -0.00615)" d="M763 0H583V1098Q518 1038 412 979Q306 920 222 890V1057Q373 1124 486 1221Q599 1318 646 1409H763Z" stroke-width="40.63"/>
<text x="670.49" y="196.4">20</text>
<text x="381.19" y="186.5">0</text>
<text x="374.18" y="142.25">20</text>
<text x="374.18" y="98">40</text>
<text x="374.18" y="53.75">60</text>
<text x="374.18" y="9.5">80</text>
</g>
<g fill="#111" stroke="#111" stroke-width="0.2" font-family='"Liberation Sans", sans-serif'>
<text transform="translate(364.5 0) rotate(-90)" x="-110.63" y="0" font-size="12.6">Re</text>
<text transform="translate(364.7 0) rotate(-90)" x="-93.5" y="0" font-size="11.5">[</text>
<text transform="translate(365.8 0) rotate(-90) scale(1.14 1)" x="-78.89" y="0" font-size="12.0" font-style="italic">σ</text>
<text transform="translate(364.7 0) rotate(-90)" x="-80.64" y="0" font-size="11.5">]</text>
</g>
<text x="520.5" y="217" font-family='"Liberation Sans", sans-serif' font-size="11.9" font-style="italic" fill="#111" stroke="#111" stroke-width="0.2">ω</text>
<line x1="529.8" y1="219.3" x2="533.5" y2="208.2" stroke="#222" stroke-width="1.05"/>
<text x="534.6" y="216.7" font-family='"Liberation Sans", sans-serif' font-size="13" font-style="italic" fill="#111" stroke="#111" stroke-width="0.2">T<tspan font-size="9.6" dy="2.6">c</tspan></text>
<line x1="396.3" y1="143" x2="411.8" y2="143" stroke="#ff2424" stroke-width="1.6" stroke-dasharray="6.2 2.6"/>
<text x="417.9" y="146.8" font-family='"Liberation Sans", sans-serif' font-size="11.4" fill="#111" stroke="#111" stroke-width="0.2">b=0</text>
<line x1="396.3" y1="155.5" x2="414.3" y2="155.5" stroke="#000" stroke-width="1.6" stroke-dasharray="6.2 2.2 1.6 2.2"/>
<text x="417.9" y="159.3" font-family='"Liberation Sans", sans-serif' font-size="11.4" fill="#111" stroke="#111" stroke-width="0.2">b=0.02</text>
<line x1="396.3" y1="168" x2="414.3" y2="168" stroke="#3535ff" stroke-width="1.6"/>
<text x="417.9" y="171.8" font-family='"Liberation Sans", sans-serif' font-size="11.4" fill="#111" stroke="#111" stroke-width="0.2">b=0.04</text>
<text transform="translate(478.01 234.7) scale(1.034 1)" font-family='"Liberation Serif", serif' font-size="15.1" font-weight="bold" fill="#111">(b)</text>
<text x="501.06" y="235.3" font-family='"Liberation Serif", serif' font-size="14.8" font-style="italic" fill="#111">α</text>
<line x1="514.5" y1="230.3" x2="523.8" y2="230.3" stroke="#222" stroke-width="0.75"/>
<line x1="514.5" y1="233.5" x2="523.8" y2="233.5" stroke="#222" stroke-width="0.75"/>
<line x1="529.3" y1="231.9" x2="537.8" y2="231.9" stroke="#222" stroke-width="0.75"/>
<text transform="translate(538.36 235.3) scale(1.016 1)" font-family='"Liberation Serif", serif' font-size="14.0" fill="#111">0.08</text>
<defs><clipPath id="clipc"><rect x="43.7" y="251.2" width="286" height="177"/></clipPath></defs>
<line x1="44.5" y1="346.45" x2="328.9" y2="346.45" stroke="#000" stroke-width="1"/>
<g clip-path="url(#clipc)" fill="none" stroke-width="1.6" stroke-linejoin="round">
<path d="M49.81 225.02 L50.36 240.57 L50.91 252 L51.56 260.33 L52.22 266.71 L52.88 272.88 L53.54 278.46 L54.21 283.17 L54.73 286.34 L55.25 289.25 L55.78 291.88 L56.3 294.22 L56.82 296.25 L57.34 298.03 L57.85 299.65 L58.37 301.15 L58.88 302.53 L59.4 303.8 L59.91 304.99 L60.43 306.1 L60.97 307.24 L61.52 308.33 L62.07 309.39 L62.62 310.38 L63.17 311.32 L63.71 312.2 L64.26 312.99 L64.81 313.71 L65.36 314.33 L65.87 314.86 L66.38 315.35 L66.89 315.81 L67.4 316.25 L67.91 316.66 L68.42 317.05 L68.93 317.42 L69.44 317.77 L69.95 318.11 L70.46 318.43 L70.97 318.74 L71.48 319.04 L71.99 319.33 L72.49 319.61 L73 319.88 L73.5 320.16 L74 320.43 L74.51 320.69 L75.01 320.95 L75.51 321.2 L76.01 321.45 L76.52 321.69 L77.02 321.93 L77.52 322.16 L78.03 322.38 L78.53 322.6 L79.03 322.81 L79.53 323.01 L80.04 323.2 L80.54 323.39 L81.04 323.56 L81.55 323.73 L82.05 323.89 L82.55 324.04 L83.05 324.19 L83.56 324.32 L84.08 324.45 L84.6 324.57 L85.12 324.7 L85.64 324.81 L86.16 324.93 L86.69 325.04 L87.21 325.14 L87.73 325.24 L88.25 325.34 L88.77 325.43 L89.29 325.53 L89.81 325.61 L90.34 325.7 L90.86 325.78 L91.38 325.86 L91.9 325.93 L92.42 326.01 L92.94 326.08 L93.46 326.14 L93.99 326.21 L94.5 326.27 L95.01 326.33 L95.52 326.39 L96.03 326.45 L96.54 326.5 L97.05 326.56 L97.57 326.61 L98.08 326.66 L98.59 326.72 L99.1 326.77 L99.61 326.82 L100.12 326.87 L100.63 326.91 L101.14 326.96 L101.66 327.01 L102.17 327.05 L102.68 327.09 L103.19 327.14 L103.7 327.18 L104.21 327.22 L104.72 327.26 L105.24 327.3 L105.75 327.34 L106.26 327.38 L106.77 327.41 L107.28 327.45 L107.79 327.49 L108.3 327.52 L108.81 327.56 L109.33 327.59 L109.84 327.63 L110.35 327.66 L110.86 327.69 L111.37 327.72 L111.88 327.76 L112.39 327.79 L112.9 327.82 L113.41 327.85 L113.92 327.88 L114.43 327.91 L114.94 327.94 L115.45 327.97 L115.96 328 L116.48 328.03 L116.99 328.06 L117.5 328.08 L118.01 328.11 L118.52 328.14 L119.03 328.16 L119.54 328.19 L120.05 328.21 L120.56 328.23 L121.07 328.26 L121.58 328.28 L122.09 328.3 L122.6 328.32 L123.11 328.33 L123.62 328.35 L124.13 328.37 L124.63 328.38 L125.13 328.4 L125.63 328.41 L126.13 328.42 L126.63 328.44 L127.13 328.45 L127.63 328.46 L128.13 328.47 L128.63 328.48 L129.13 328.49 L129.63 328.5 L130.13 328.51 L130.63 328.52 L131.13 328.53 L131.63 328.54 L132.13 328.55 L132.63 328.56 L133.13 328.57 L133.63 328.58 L134.13 328.58 L134.63 328.59 L135.13 328.6 L135.63 328.61 L136.13 328.61 L136.63 328.62 L137.13 328.63 L137.63 328.63 L138.13 328.64 L138.64 328.65 L139.14 328.65 L139.64 328.66 L140.14 328.67 L140.64 328.67 L141.14 328.68 L141.64 328.68 L142.14 328.69 L142.64 328.7 L143.14 328.7 L143.64 328.71 L144.14 328.72 L144.64 328.73 L145.14 328.73 L145.64 328.74 L146.14 328.75 L146.64 328.75 L147.14 328.76 L147.64 328.77 L148.14 328.78 L148.64 328.79 L149.14 328.8 L149.64 328.81 L150.14 328.82 L150.64 328.83 L151.14 328.84 L151.64 328.85 L152.14 328.86 L152.64 328.87 L153.14 328.88 L153.64 328.89 L154.14 328.9 L154.64 328.92 L155.14 328.93 L155.64 328.95 L156.14 328.96 L156.64 328.98 L157.14 328.99 L157.64 329.01 L158.14 329.02 L158.64 329.04 L159.15 329.06 L159.66 329.08 L160.17 329.11 L160.69 329.13 L161.2 329.16 L161.71 329.19 L162.22 329.22 L162.73 329.26 L163.24 329.3 L163.75 329.34 L164.27 329.38 L164.78 329.42 L165.29 329.47 L165.8 329.51 L166.31 329.56 L166.82 329.61 L167.33 329.67 L167.85 329.72 L168.36 329.78 L168.87 329.84 L169.38 329.9 L169.89 329.96 L170.4 330.02 L170.91 330.09 L171.43 330.16 L171.94 330.23 L172.45 330.3 L172.96 330.37 L173.47 330.44 L173.98 330.51 L174.5 330.59 L175.01 330.67 L175.52 330.75 L176.03 330.83 L176.54 330.91 L177.05 330.99 L177.56 331.08 L178.08 331.16 L178.59 331.25 L179.1 331.34 L179.61 331.42 L180.12 331.51 L180.63 331.6 L181.14 331.7 L181.65 331.8 L182.16 331.9 L182.67 332.02 L183.19 332.13 L183.7 332.26 L184.21 332.39 L184.72 332.52 L185.23 332.66 L185.74 332.81 L186.25 332.96 L186.76 333.12 L187.27 333.29 L187.78 333.46 L188.29 333.63 L188.8 333.81 L189.31 334 L189.82 334.19 L190.33 334.39 L190.84 334.59 L191.35 334.8 L191.86 335.01 L192.37 335.23 L192.88 335.46 L193.39 335.69 L193.9 335.92 L194.41 336.17 L194.92 336.44 L195.42 336.73 L195.93 337.03 L196.43 337.36 L196.94 337.7 L197.44 338.06 L197.95 338.44 L198.46 338.82 L198.96 339.23 L199.47 339.64 L199.97 340.07 L200.48 340.5 L200.98 340.95 L201.49 341.4 L201.99 341.86 L202.5 342.33 L203.01 342.8 L203.52 343.29 L204.04 343.78 L204.56 344.27 L205.07 344.79 L205.59 345.33 L206.11 345.91 L206.63 346.53 L207.14 347.19 L207.66 347.91 L208.18 348.69 L208.69 349.55 L209.2 350.53 L209.7 351.72 L210.21 353.09 L210.72 354.59 L211.22 356.21 L211.73 357.91 L212.23 359.66 L212.74 361.42 L213.24 363.18 L213.81 365.21 L214.38 367.37 L214.95 369.63 L215.52 371.98 L216.09 374.38 L216.59 377.11 L217.1 379.95 L217.6 381.26 L218.27 376.59 L218.93 365.34 L219.22 354.45 L219.5 342.8 L220.16 329.54 L220.83 320.14 L221.46 311 L222.09 302.94 L222.72 299.22 L223.24 298.88 L223.75 298.6 L224.27 298.38 L224.78 298.21 L225.3 298.1 L225.81 298.03 L226.33 298.01 L226.9 298.47 L227.46 299.62 L228.03 301.12 L228.6 302.63 L229.17 303.81 L229.68 304.59 L230.18 305.34 L230.69 306.06 L231.19 306.73 L231.7 307.37 L232.2 307.97 L232.71 308.52 L233.22 309.02 L233.72 309.48 L234.25 309.92 L234.78 310.36 L235.31 310.79 L235.83 311.2 L236.36 311.6 L236.89 311.98 L237.42 312.33 L237.95 312.67 L238.47 312.98 L239 313.26 L239.53 313.51 L240.06 313.73 L240.59 313.92 L241.12 314.06 L241.63 314.19 L242.15 314.31 L242.66 314.42 L243.18 314.54 L243.7 314.64 L244.21 314.75 L244.73 314.84 L245.24 314.93 L245.76 315.02 L246.28 315.1 L246.79 315.17 L247.31 315.23 L247.82 315.28 L248.34 315.33 L248.86 315.37 L249.37 315.39 L249.89 315.41 L250.41 315.41 L250.91 315.41 L251.42 315.38 L251.93 315.34 L252.44 315.29 L252.95 315.22 L253.46 315.15 L253.97 315.06 L254.48 314.96 L254.99 314.86 L255.49 314.75 L256 314.63 L256.51 314.51 L257.02 314.39 L257.53 314.27 L258.04 314.14 L258.55 314.02 L259.06 313.89 L259.57 313.78 L260.08 313.66 L260.59 313.54 L261.1 313.42 L261.61 313.3 L262.12 313.17 L262.63 313.03 L263.14 312.89 L263.65 312.75 L264.16 312.6 L264.67 312.45 L265.18 312.3 L265.69 312.14 L266.2 311.99 L266.71 311.83 L267.22 311.67 L267.73 311.51 L268.24 311.35 L268.75 311.18 L269.26 311.02 L269.77 310.86 L270.28 310.69 L270.79 310.53 L271.31 310.37 L271.82 310.21 L272.33 310.06 L272.84 309.9 L273.35 309.75 L273.85 309.6 L274.36 309.44 L274.86 309.29 L275.37 309.13 L275.88 308.97 L276.38 308.82 L276.89 308.66 L277.39 308.5 L277.9 308.34 L278.4 308.17 L278.91 308.01 L279.41 307.85 L279.92 307.69 L280.43 307.53 L280.93 307.36 L281.44 307.2 L281.94 307.04 L282.45 306.88 L282.95 306.71 L283.46 306.55 L283.96 306.39 L284.47 306.24 L284.98 306.08 L285.48 305.92 L285.99 305.77 L286.49 305.61 L287 305.46 L287.5 305.31 L288.01 305.16 L288.52 305.02 L289.02 304.87 L289.53 304.73 L290.03 304.59 L290.54 304.45 L291.04 304.32 L291.55 304.19 L292.05 304.06 L292.56 303.93 L293.07 303.81 L293.57 303.69 L294.08 303.57 L294.58 303.46 L295.09 303.34 L295.59 303.23 L296.1 303.12 L296.6 303.02 L297.11 302.91 L297.62 302.81 L298.12 302.7 L298.63 302.6 L299.13 302.5 L299.64 302.4 L300.14 302.3 L300.65 302.21 L301.16 302.11 L301.66 302.01 L302.17 301.92 L302.67 301.83 L303.18 301.73 L303.68 301.64 L304.19 301.54 L304.69 301.45 L305.2 301.36 L305.71 301.27 L306.21 301.17 L306.72 301.08 L307.22 300.98 L307.73 300.89 L308.23 300.8 L308.74 300.7 L309.24 300.6 L309.75 300.51 L310.26 300.41 L310.76 300.31 L311.27 300.21 L311.77 300.11 L312.28 300 L312.78 299.9 L313.29 299.79 L313.8 299.68 L314.31 299.58 L314.82 299.47 L315.33 299.36 L315.84 299.25 L316.35 299.15 L316.86 299.04 L317.37 298.93 L317.88 298.82 L318.39 298.71 L318.89 298.6 L319.4 298.49 L319.91 298.38 L320.42 298.27 L320.93 298.16 L321.44 298.04 L321.95 297.93 L322.46 297.82 L322.97 297.71 L323.48 297.59 L323.99 297.48 L324.5 297.37 L325.01 297.25 L325.51 297.14 L326.02 297.03 L326.53 296.91 L327.04 296.8 L327.55 296.68 L328.06 296.57 L328.57 296.45 L329.08 296.33 L329.59 296.22 L330.1 296.1 L330.61 295.98" stroke="#f00" stroke-dasharray="6.2 2.6"/>
<path d="M50.76 225.02 L51.33 240.86 L51.89 252 L52.45 258.11 L53.01 262.57 L53.56 266.71 L54.14 271.23 L54.72 275.57 L55.3 279.59 L55.88 283.17 L56.43 286.25 L56.98 289.14 L57.53 291.81 L58.08 294.2 L58.63 296.25 L59.17 298.03 L59.71 299.67 L60.25 301.18 L60.79 302.57 L61.33 303.85 L61.88 305.02 L62.42 306.1 L62.93 307.06 L63.43 307.99 L63.94 308.88 L64.45 309.73 L64.96 310.54 L65.47 311.3 L65.98 312.02 L66.48 312.68 L66.99 313.29 L67.5 313.84 L68.01 314.33 L68.54 314.8 L69.07 315.24 L69.6 315.65 L70.13 316.04 L70.66 316.41 L71.2 316.77 L71.73 317.1 L72.26 317.42 L72.79 317.72 L73.32 318.01 L73.85 318.29 L74.38 318.56 L74.91 318.82 L75.44 319.08 L75.97 319.33 L76.49 319.56 L77 319.8 L77.51 320.03 L78.02 320.25 L78.53 320.47 L79.05 320.68 L79.56 320.89 L80.07 321.09 L80.58 321.29 L81.09 321.48 L81.6 321.67 L82.12 321.85 L82.63 322.02 L83.14 322.2 L83.65 322.36 L84.16 322.52 L84.68 322.68 L85.19 322.82 L85.7 322.97 L86.21 323.1 L86.73 323.24 L87.25 323.37 L87.77 323.49 L88.28 323.62 L88.8 323.73 L89.32 323.85 L89.84 323.96 L90.36 324.07 L90.88 324.17 L91.39 324.27 L91.91 324.37 L92.43 324.46 L92.95 324.55 L93.47 324.64 L93.99 324.72 L94.5 324.81 L95.02 324.89 L95.53 324.97 L96.05 325.05 L96.57 325.13 L97.08 325.21 L97.6 325.29 L98.11 325.36 L98.63 325.43 L99.15 325.5 L99.66 325.57 L100.18 325.63 L100.7 325.69 L101.21 325.75 L101.73 325.8 L102.24 325.85 L102.76 325.9 L103.28 325.94 L103.78 325.97 L104.28 326.01 L104.79 326.05 L105.29 326.08 L105.79 326.12 L106.3 326.16 L106.8 326.19 L107.3 326.22 L107.8 326.26 L108.31 326.29 L108.81 326.32 L109.31 326.36 L109.82 326.39 L110.32 326.42 L110.82 326.45 L111.33 326.48 L111.83 326.51 L112.33 326.54 L112.84 326.57 L113.34 326.6 L113.84 326.63 L114.35 326.66 L114.85 326.68 L115.35 326.71 L115.86 326.73 L116.36 326.76 L116.86 326.78 L117.36 326.81 L117.87 326.83 L118.37 326.85 L118.87 326.87 L119.38 326.9 L119.88 326.92 L120.38 326.94 L120.89 326.95 L121.39 326.97 L121.89 326.99 L122.4 327.01 L122.9 327.02 L123.4 327.04 L123.91 327.05 L124.41 327.06 L124.91 327.08 L125.42 327.09 L125.92 327.1 L126.42 327.11 L126.92 327.12 L127.43 327.13 L127.93 327.14 L128.43 327.14 L128.94 327.15 L129.44 327.15 L129.94 327.16 L130.45 327.16 L130.95 327.16 L131.45 327.17 L131.96 327.17 L132.46 327.17 L132.96 327.18 L133.47 327.18 L133.97 327.18 L134.48 327.19 L134.98 327.19 L135.48 327.19 L135.99 327.19 L136.49 327.2 L136.99 327.2 L137.5 327.2 L138 327.2 L138.5 327.2 L139.01 327.2 L139.51 327.21 L140.01 327.21 L140.52 327.21 L141.02 327.21 L141.52 327.21 L142.03 327.21 L142.53 327.21 L143.03 327.22 L143.54 327.22 L144.04 327.22 L144.54 327.22 L145.05 327.22 L145.55 327.22 L146.05 327.22 L146.56 327.22 L147.06 327.23 L147.56 327.23 L148.07 327.23 L148.57 327.23 L149.07 327.23 L149.58 327.23 L150.08 327.24 L150.58 327.24 L151.09 327.24 L151.59 327.24 L152.09 327.24 L152.6 327.25 L153.1 327.25 L153.6 327.25 L154.11 327.25 L154.61 327.26 L155.12 327.26 L155.62 327.26 L156.12 327.27 L156.63 327.27 L157.13 327.27 L157.63 327.28 L158.14 327.28 L158.64 327.29 L159.14 327.29 L159.64 327.3 L160.15 327.31 L160.65 327.32 L161.15 327.33 L161.66 327.34 L162.16 327.35 L162.66 327.37 L163.16 327.38 L163.67 327.4 L164.17 327.42 L164.67 327.44 L165.17 327.46 L165.68 327.48 L166.18 327.5 L166.68 327.53 L167.18 327.55 L167.69 327.58 L168.19 327.6 L168.69 327.63 L169.2 327.66 L169.7 327.69 L170.2 327.72 L170.7 327.75 L171.21 327.79 L171.71 327.82 L172.21 327.85 L172.71 327.89 L173.22 327.92 L173.72 327.96 L174.22 328 L174.72 328.04 L175.23 328.08 L175.73 328.12 L176.23 328.16 L176.73 328.2 L177.24 328.24 L177.74 328.28 L178.24 328.32 L178.75 328.37 L179.25 328.41 L179.75 328.46 L180.25 328.5 L180.76 328.55 L181.26 328.6 L181.77 328.65 L182.28 328.71 L182.78 328.77 L183.29 328.83 L183.79 328.89 L184.3 328.96 L184.8 329.03 L185.31 329.11 L185.82 329.18 L186.32 329.27 L186.83 329.35 L187.33 329.44 L187.84 329.53 L188.34 329.62 L188.85 329.72 L189.35 329.82 L189.86 329.92 L190.37 330.02 L190.87 330.13 L191.38 330.25 L191.88 330.36 L192.39 330.48 L192.89 330.6 L193.4 330.73 L193.9 330.86 L194.41 330.99 L194.92 331.13 L195.42 331.27 L195.93 331.41 L196.43 331.55 L196.94 331.7 L197.44 331.86 L197.95 332.01 L198.46 332.17 L198.96 332.33 L199.47 332.5 L199.97 332.67 L200.48 332.84 L200.98 333.02 L201.49 333.2 L201.99 333.39 L202.5 333.57 L203.01 333.76 L203.51 333.97 L204.02 334.19 L204.52 334.44 L205.03 334.71 L205.53 335 L206.04 335.32 L206.54 335.65 L207.05 336 L207.56 336.37 L208.06 336.76 L208.57 337.17 L209.07 337.6 L209.58 338.04 L210.08 338.5 L210.59 338.98 L211.1 339.47 L211.6 339.98 L212.11 340.51 L212.66 341.11 L213.21 341.75 L213.76 342.44 L214.31 343.2 L214.86 344.02 L215.41 344.93 L215.96 345.93 L216.51 347.02 L217.05 348.23 L217.6 349.55 L218.17 351.2 L218.74 353.28 L219.31 355.75 L219.88 358.61 L220.45 361.81 L221.02 365.34 L221.59 369.86 L222.16 375.61 L222.72 381.89 L223.29 388 L223.86 393.84 L224.43 399.74 L225 405.71 L225.57 411.75 L226.04 400.3 L226.52 386.92 L227.08 367.51 L227.65 346.45 L228.22 326.02 L228.79 305.5 L229.36 284.88 L229.93 264.14 L230.5 264.68 L231.07 265.22 L231.64 265.76 L232.2 266.3 L232.77 266.84 L233.4 270.78 L234.04 274.53 L234.67 278.04 L235.2 280.89 L235.73 283.69 L236.26 286.36 L236.79 288.78 L237.32 290.86 L237.83 292.59 L238.33 294.2 L238.84 295.68 L239.35 297.02 L239.85 298.21 L240.36 299.22 L240.87 300.13 L241.38 300.97 L241.89 301.76 L242.4 302.5 L242.91 303.2 L243.42 303.85 L243.93 304.47 L244.44 305.06 L244.95 305.63 L245.46 306.17 L245.97 306.7 L246.48 307.21 L246.99 307.72 L247.5 308.23 L248.01 308.74 L248.52 309.25 L249.03 309.74 L249.55 310.23 L250.06 310.69 L250.57 311.14 L251.08 311.56 L251.59 311.95 L252.1 312.3 L252.61 312.62 L253.12 312.89 L253.63 313.12 L254.13 313.32 L254.64 313.51 L255.15 313.71 L255.65 313.89 L256.16 314.07 L256.66 314.25 L257.17 314.41 L257.67 314.57 L258.18 314.72 L258.68 314.85 L259.19 314.98 L259.7 315.09 L260.2 315.18 L260.71 315.26 L261.21 315.33 L261.72 315.37 L262.22 315.4 L262.73 315.41 L263.24 315.41 L263.74 315.39 L264.25 315.36 L264.75 315.32 L265.26 315.27 L265.76 315.21 L266.27 315.14 L266.77 315.06 L267.28 314.98 L267.79 314.89 L268.29 314.79 L268.8 314.69 L269.3 314.58 L269.81 314.48 L270.31 314.36 L270.82 314.25 L271.32 314.13 L271.83 314.01 L272.34 313.89 L272.84 313.78 L273.35 313.66 L273.85 313.54 L274.35 313.4 L274.86 313.25 L275.36 313.09 L275.86 312.91 L276.37 312.73 L276.87 312.54 L277.37 312.34 L277.88 312.13 L278.38 311.91 L278.88 311.7 L279.39 311.47 L279.89 311.25 L280.39 311.02 L280.89 310.79 L281.4 310.56 L281.9 310.34 L282.4 310.11 L282.91 309.89 L283.41 309.68 L283.91 309.47 L284.42 309.26 L284.92 309.07 L285.42 308.88 L285.93 308.7 L286.43 308.53 L286.94 308.37 L287.44 308.21 L287.95 308.06 L288.45 307.9 L288.96 307.75 L289.46 307.61 L289.97 307.46 L290.47 307.32 L290.98 307.17 L291.49 307.03 L291.99 306.9 L292.5 306.76 L293 306.62 L293.51 306.49 L294.01 306.36 L294.52 306.23 L295.02 306.1 L295.53 305.97 L296.04 305.84 L296.54 305.71 L297.05 305.59 L297.55 305.46 L298.06 305.33 L298.56 305.21 L299.07 305.08 L299.58 304.96 L300.08 304.83 L300.59 304.71 L301.09 304.58 L301.6 304.45 L302.1 304.32 L302.61 304.2 L303.11 304.07 L303.62 303.94 L304.13 303.81 L304.63 303.68 L305.14 303.54 L305.64 303.41 L306.15 303.27 L306.66 303.13 L307.17 302.99 L307.68 302.86 L308.19 302.72 L308.7 302.58 L309.21 302.44 L309.71 302.3 L310.22 302.16 L310.73 302.02 L311.24 301.88 L311.75 301.75 L312.26 301.61 L312.77 301.47 L313.28 301.33 L313.79 301.19 L314.3 301.05 L314.81 300.91 L315.32 300.77 L315.83 300.63 L316.34 300.49 L316.85 300.35 L317.36 300.21 L317.87 300.07 L318.38 299.93 L318.89 299.79 L319.4 299.65 L319.91 299.51 L320.42 299.36 L320.92 299.22 L321.43 299.08 L321.94 298.94 L322.45 298.8 L322.96 298.66 L323.47 298.52 L323.98 298.38 L324.49 298.23 L325 298.09 L325.51 297.95 L326.02 297.81 L326.53 297.67 L327.04 297.52 L327.55 297.38 L328.06 297.24 L328.57 297.1 L329.08 296.95 L329.59 296.81 L330.1 296.67 L330.61 296.52" stroke="#000" stroke-dasharray="6.2 2.2 1.6 2.2"/>
<path d="M51.14 225.02 L51.68 240.94 L52.22 252 L52.79 258.2 L53.35 262.63 L53.92 266.71 L54.52 271.24 L55.12 275.57 L55.71 279.58 L56.31 283.17 L56.87 286.23 L57.43 289.12 L58 291.79 L58.56 294.18 L59.12 296.25 L59.66 298.03 L60.21 299.67 L60.75 301.18 L61.3 302.58 L61.84 303.86 L62.38 305.04 L62.93 306.1 L63.46 307.07 L63.98 308 L64.51 308.9 L65.04 309.75 L65.57 310.56 L66.09 311.32 L66.62 312.03 L67.15 312.69 L67.68 313.29 L68.2 313.84 L68.73 314.33 L69.24 314.77 L69.75 315.18 L70.27 315.58 L70.78 315.95 L71.29 316.3 L71.8 316.64 L72.31 316.96 L72.83 317.27 L73.34 317.56 L73.85 317.84 L74.36 318.11 L74.87 318.37 L75.39 318.62 L75.9 318.86 L76.41 319.1 L76.92 319.33 L77.44 319.55 L77.96 319.77 L78.48 319.98 L79 320.19 L79.52 320.39 L80.04 320.59 L80.55 320.78 L81.07 320.96 L81.59 321.14 L82.11 321.31 L82.63 321.48 L83.15 321.65 L83.67 321.81 L84.19 321.97 L84.71 322.12 L85.22 322.27 L85.74 322.42 L86.26 322.56 L86.78 322.7 L87.3 322.84 L87.81 322.97 L88.32 323.11 L88.84 323.24 L89.35 323.36 L89.87 323.49 L90.38 323.61 L90.9 323.72 L91.41 323.84 L91.93 323.94 L92.44 324.05 L92.96 324.14 L93.47 324.23 L93.99 324.32 L94.5 324.4 L95.02 324.48 L95.54 324.56 L96.05 324.64 L96.57 324.72 L97.08 324.79 L97.6 324.87 L98.12 324.94 L98.63 325.01 L99.15 325.08 L99.67 325.15 L100.18 325.22 L100.7 325.29 L101.22 325.35 L101.73 325.41 L102.25 325.47 L102.77 325.53 L103.28 325.59 L103.8 325.64 L104.32 325.7 L104.83 325.75 L105.35 325.8 L105.87 325.84 L106.38 325.89 L106.9 325.93 L107.41 325.97 L107.93 326.01 L108.45 326.04 L108.96 326.07 L109.48 326.1 L109.99 326.13 L110.5 326.17 L111.01 326.2 L111.52 326.23 L112.04 326.26 L112.55 326.29 L113.06 326.32 L113.57 326.35 L114.08 326.37 L114.6 326.4 L115.11 326.43 L115.62 326.46 L116.13 326.48 L116.64 326.51 L117.15 326.54 L117.67 326.56 L118.18 326.59 L118.69 326.61 L119.2 326.63 L119.71 326.66 L120.23 326.68 L120.74 326.7 L121.25 326.72 L121.76 326.74 L122.27 326.75 L122.79 326.77 L123.3 326.79 L123.81 326.8 L124.32 326.81 L124.83 326.83 L125.35 326.84 L125.86 326.85 L126.37 326.86 L126.88 326.86 L127.39 326.87 L127.91 326.88 L128.42 326.88 L128.93 326.88 L129.44 326.88 L129.94 326.88 L130.45 326.88 L130.95 326.88 L131.45 326.88 L131.96 326.88 L132.46 326.88 L132.96 326.88 L133.47 326.88 L133.97 326.88 L134.48 326.88 L134.98 326.88 L135.48 326.88 L135.99 326.88 L136.49 326.88 L136.99 326.88 L137.5 326.88 L138 326.88 L138.5 326.88 L139.01 326.88 L139.51 326.88 L140.01 326.88 L140.52 326.88 L141.02 326.88 L141.52 326.88 L142.03 326.88 L142.53 326.88 L143.03 326.88 L143.54 326.88 L144.04 326.88 L144.54 326.88 L145.05 326.88 L145.55 326.88 L146.05 326.88 L146.56 326.88 L147.06 326.88 L147.56 326.88 L148.07 326.88 L148.57 326.88 L149.07 326.88 L149.58 326.88 L150.08 326.88 L150.58 326.88 L151.09 326.88 L151.59 326.88 L152.09 326.88 L152.6 326.88 L153.1 326.88 L153.6 326.88 L154.11 326.88 L154.61 326.88 L155.12 326.88 L155.62 326.88 L156.12 326.88 L156.63 326.88 L157.13 326.88 L157.63 326.88 L158.14 326.88 L158.64 326.88 L159.15 326.88 L159.66 326.89 L160.17 326.89 L160.69 326.9 L161.2 326.91 L161.71 326.92 L162.22 326.93 L162.73 326.94 L163.24 326.96 L163.75 326.97 L164.27 326.99 L164.78 327.01 L165.29 327.03 L165.8 327.05 L166.31 327.08 L166.82 327.1 L167.33 327.13 L167.85 327.15 L168.36 327.18 L168.87 327.21 L169.38 327.24 L169.89 327.28 L170.4 327.31 L170.91 327.34 L171.43 327.38 L171.94 327.41 L172.45 327.45 L172.96 327.48 L173.47 327.52 L173.98 327.56 L174.5 327.6 L175.01 327.64 L175.52 327.68 L176.03 327.72 L176.54 327.76 L177.05 327.8 L177.56 327.84 L178.08 327.88 L178.59 327.93 L179.1 327.97 L179.61 328.01 L180.12 328.05 L180.63 328.1 L181.14 328.14 L181.65 328.19 L182.16 328.23 L182.67 328.28 L183.18 328.33 L183.68 328.38 L184.19 328.44 L184.7 328.5 L185.21 328.55 L185.72 328.61 L186.23 328.68 L186.73 328.74 L187.24 328.81 L187.75 328.87 L188.26 328.94 L188.77 329.02 L189.28 329.09 L189.79 329.17 L190.29 329.25 L190.8 329.33 L191.31 329.41 L191.82 329.5 L192.33 329.59 L192.84 329.68 L193.34 329.77 L193.85 329.86 L194.36 329.96 L194.87 330.06 L195.38 330.16 L195.89 330.27 L196.4 330.38 L196.9 330.49 L197.41 330.6 L197.92 330.71 L198.43 330.83 L198.94 330.95 L199.45 331.07 L199.95 331.2 L200.46 331.33 L200.97 331.46 L201.48 331.59 L201.99 331.73 L202.5 331.87 L203.01 332.01 L203.51 332.16 L204.02 332.32 L204.53 332.49 L205.04 332.67 L205.55 332.87 L206.06 333.07 L206.56 333.29 L207.07 333.52 L207.58 333.77 L208.09 334.02 L208.6 334.29 L209.11 334.58 L209.62 334.87 L210.12 335.19 L210.63 335.51 L211.14 335.85 L211.65 336.21 L212.16 336.58 L212.67 336.96 L213.18 337.37 L213.68 337.78 L214.19 338.22 L214.71 338.7 L215.23 339.25 L215.74 339.87 L216.26 340.56 L216.78 341.31 L217.29 342.13 L217.81 343.02 L218.33 343.98 L218.85 345 L219.36 346.1 L219.88 347.26 L220.39 348.55 L220.89 350.07 L221.4 351.8 L221.9 353.72 L222.41 355.81 L222.91 358.03 L223.42 360.38 L223.92 362.82 L224.43 365.34 L225 368.3 L225.57 371.5 L226.14 375 L226.71 378.88 L227.27 383.19 L227.84 388 L228.48 394.62 L229.11 402.74 L229.74 411.75 L230.28 392.25 L230.83 372.76 L231.37 353.26 L231.92 333.76 L232.46 314.27 L233.01 294.77 L233.55 275.27 L234.1 255.78 L234.67 256.27 L235.24 256.77 L235.81 257.26 L236.38 257.76 L236.94 258.25 L237.51 258.75 L238.18 263.8 L238.84 268.6 L239.47 272.9 L240.1 277.02 L240.74 281.01 L241.24 284.3 L241.75 287.5 L242.25 290.05 L242.77 291.97 L243.3 293.59 L243.82 294.98 L244.34 296.25 L244.91 297.56 L245.48 298.78 L246.04 299.92 L246.61 300.98 L247.18 301.98 L247.75 302.92 L248.32 303.81 L248.85 304.61 L249.38 305.37 L249.91 306.12 L250.44 306.83 L250.97 307.52 L251.51 308.17 L252.04 308.79 L252.57 309.37 L253.1 309.92 L253.63 310.42 L254.17 310.91 L254.7 311.38 L255.24 311.84 L255.78 312.28 L256.31 312.71 L256.85 313.11 L257.39 313.49 L257.93 313.85 L258.46 314.18 L259 314.49 L259.54 314.77 L260.08 315.01 L260.59 315.23 L261.11 315.45 L261.62 315.66 L262.14 315.88 L262.66 316.09 L263.17 316.29 L263.69 316.49 L264.2 316.67 L264.72 316.85 L265.24 317.01 L265.75 317.16 L266.27 317.3 L266.78 317.42 L267.3 317.52 L267.82 317.6 L268.33 317.66 L268.85 317.69 L269.37 317.71 L269.87 317.69 L270.38 317.65 L270.88 317.59 L271.39 317.5 L271.89 317.39 L272.4 317.27 L272.9 317.12 L273.41 316.96 L273.92 316.79 L274.42 316.61 L274.93 316.41 L275.43 316.21 L275.94 316 L276.44 315.79 L276.95 315.57 L277.46 315.36 L277.96 315.14 L278.47 314.93 L278.97 314.73 L279.48 314.53 L279.98 314.33 L280.49 314.14 L280.99 313.95 L281.49 313.74 L282 313.53 L282.5 313.31 L283 313.09 L283.51 312.86 L284.01 312.63 L284.51 312.39 L285.01 312.15 L285.52 311.91 L286.02 311.67 L286.52 311.43 L287.03 311.19 L287.53 310.94 L288.03 310.7 L288.54 310.47 L289.04 310.23 L289.54 310 L290.05 309.77 L290.55 309.55 L291.05 309.33 L291.56 309.12 L292.06 308.92 L292.56 308.72 L293.07 308.53 L293.57 308.35 L294.07 308.17 L294.58 307.99 L295.08 307.81 L295.58 307.64 L296.08 307.46 L296.59 307.29 L297.09 307.12 L297.59 306.95 L298.1 306.79 L298.6 306.62 L299.1 306.46 L299.61 306.3 L300.11 306.15 L300.61 305.99 L301.12 305.84 L301.62 305.69 L302.12 305.55 L302.63 305.4 L303.13 305.26 L303.63 305.12 L304.14 304.99 L304.64 304.86 L305.14 304.73 L305.64 304.61 L306.15 304.49 L306.66 304.37 L307.17 304.25 L307.68 304.13 L308.19 304.02 L308.7 303.91 L309.21 303.81 L309.72 303.7 L310.23 303.6 L310.74 303.5 L311.25 303.4 L311.76 303.31 L312.27 303.21 L312.78 303.12 L313.29 303.02 L313.8 302.93 L314.32 302.84 L314.83 302.75 L315.34 302.66 L315.85 302.57 L316.36 302.48 L316.87 302.39 L317.38 302.29 L317.89 302.2 L318.4 302.11 L318.91 302.02 L319.42 301.92 L319.93 301.83 L320.44 301.73 L320.95 301.64 L321.45 301.54 L321.96 301.45 L322.47 301.36 L322.98 301.26 L323.49 301.17 L324 301.08 L324.5 300.99 L325.01 300.89 L325.52 300.8 L326.03 300.71 L326.54 300.62 L327.05 300.53 L327.56 300.44 L328.06 300.35 L328.57 300.26 L329.08 300.17 L329.59 300.08 L330.1 299.99 L330.61 299.9" stroke="#00f"/>
</g>
<path d="M44.5 427.4 v-4 M44.5 252 v4 M53.98 427.4 v-2 M53.98 252 v2 M63.46 427.4 v-2 M63.46 252 v2 M72.94 427.4 v-2 M72.94 252 v2 M82.42 427.4 v-4 M82.42 252 v4 M91.9 427.4 v-2 M91.9 252 v2 M101.38 427.4 v-2 M101.38 252 v2 M110.86 427.4 v-2 M110.86 252 v2 M120.34 427.4 v-4 M120.34 252 v4 M129.82 427.4 v-2 M129.82 252 v2 M139.3 427.4 v-2 M139.3 252 v2 M148.78 427.4 v-2 M148.78 252 v2 M158.26 427.4 v-4 M158.26 252 v4 M167.74 427.4 v-2 M167.74 252 v2 M177.22 427.4 v-2 M177.22 252 v2 M186.7 427.4 v-2 M186.7 252 v2 M196.18 427.4 v-4 M196.18 252 v4 M205.66 427.4 v-2 M205.66 252 v2 M215.14 427.4 v-2 M215.14 252 v2 M224.62 427.4 v-2 M224.62 252 v2 M234.1 427.4 v-4 M234.1 252 v4 M243.58 427.4 v-2 M243.58 252 v2 M253.06 427.4 v-2 M253.06 252 v2 M262.54 427.4 v-2 M262.54 252 v2 M272.02 427.4 v-4 M272.02 252 v4 M281.5 427.4 v-2 M281.5 252 v2 M290.98 427.4 v-2 M290.98 252 v2 M300.46 427.4 v-2 M300.46 252 v2 M309.94 427.4 v-4 M309.94 252 v4 M319.42 427.4 v-2 M319.42 252 v2 M328.9 427.4 v-2 M328.9 252 v2 M44.5 427.4 h4 M328.9 427.4 h-4 M44.5 420.65 h2 M328.9 420.65 h-2 M44.5 413.91 h2 M328.9 413.91 h-2 M44.5 407.16 h2 M328.9 407.16 h-2 M44.5 400.42 h4 M328.9 400.42 h-4 M44.5 393.67 h2 M328.9 393.67 h-2 M44.5 386.92 h2 M328.9 386.92 h-2 M44.5 380.18 h2 M328.9 380.18 h-2 M44.5 373.43 h4 M328.9 373.43 h-4 M44.5 366.68 h2 M328.9 366.68 h-2 M44.5 359.94 h2 M328.9 359.94 h-2 M44.5 353.19 h2 M328.9 353.19 h-2 M44.5 346.45 h4 M328.9 346.45 h-4 M44.5 339.7 h2 M328.9 339.7 h-2 M44.5 332.95 h2 M328.9 332.95 h-2 M44.5 326.21 h2 M328.9 326.21 h-2 M44.5 319.46 h4 M328.9 319.46 h-4 M44.5 312.72 h2 M328.9 312.72 h-2 M44.5 305.97 h2 M328.9 305.97 h-2 M44.5 299.22 h2 M328.9 299.22 h-2 M44.5 292.48 h4 M328.9 292.48 h-4 M44.5 285.73 h2 M328.9 285.73 h-2 M44.5 278.98 h2 M328.9 278.98 h-2 M44.5 272.24 h2 M328.9 272.24 h-2 M44.5 265.49 h4 M328.9 265.49 h-4 M44.5 258.75 h2 M328.9 258.75 h-2 M44.5 252 h2 M328.9 252 h-2" stroke="#333" stroke-width="0.9" fill="none"/>
<rect x="44.5" y="252" width="284.4" height="175.4" fill="none" stroke="#222" stroke-width="1"/>
<g font-family='"Liberation Sans", sans-serif' font-size="12.6" fill="#111" stroke="#111" stroke-width="0.25">
<text x="41" y="441.8">0</text>
<text x="78.92" y="441.8">2</text>
<text x="116.84" y="441.8">4</text>
<text x="154.76" y="441.8">6</text>
<text x="192.68" y="441.8">8</text>
<text x="227.09" y="441.8"> 0</text><path transform="translate(227.09 441.8) scale(0.00615 -0.00615)" d="M763 0H583V1098Q518 1038 412 979Q306 920 222 890V1057Q373 1124 486 1221Q599 1318 646 1409H763Z" stroke-width="40.63"/>
<text x="265.01" y="441.8"> 2</text><path transform="translate(265.01 441.8) scale(0.00615 -0.00615)" d="M763 0H583V1098Q518 1038 412 979Q306 920 222 890V1057Q373 1124 486 1221Q599 1318 646 1409H763Z" stroke-width="40.63"/>
<text x="302.93" y="441.8"> 4</text><path transform="translate(302.93 441.8) scale(0.00615 -0.00615)" d="M763 0H583V1098Q518 1038 412 979Q306 920 222 890V1057Q373 1124 486 1221Q599 1318 646 1409H763Z" stroke-width="40.63"/>
<text x="19.83" y="431.9">−60</text>
<text x="19.83" y="404.92">−40</text>
<text x="19.83" y="377.93">−20</text>
<text x="34.19" y="350.95">0</text>
<text x="27.18" y="323.96">20</text>
<text x="27.18" y="296.98">40</text>
<text x="27.18" y="269.99">60</text>
</g>
<g fill="#111" stroke="#111" stroke-width="0.2" font-family='"Liberation Sans", sans-serif'>
<text transform="translate(8.9 0) rotate(-90)" x="-355.26" y="0" font-size="12.6">Im</text>
<text transform="translate(9.1 0) rotate(-90)" x="-340.51" y="0" font-size="11.5">[</text>
<text transform="translate(10.2 0) rotate(-90) scale(1.14 1)" x="-295.56" y="0" font-size="12.0" font-style="italic">σ</text>
<text transform="translate(9.1 0) rotate(-90)" x="-327.65" y="0" font-size="11.5">]</text>
</g>
<text x="172.2" y="462.6" font-family='"Liberation Sans", sans-serif' font-size="11.9" font-style="italic" fill="#111" stroke="#111" stroke-width="0.2">ω</text>
<line x1="181.5" y1="464.9" x2="185.2" y2="453.8" stroke="#222" stroke-width="1.05"/>
<text x="186.3" y="462.3" font-family='"Liberation Sans", sans-serif' font-size="13" font-style="italic" fill="#111" stroke="#111" stroke-width="0.2">T<tspan font-size="9.6" dy="2.6">c</tspan></text>
<line x1="51.6" y1="387.6" x2="67.1" y2="387.6" stroke="#ff2424" stroke-width="1.6" stroke-dasharray="6.2 2.6"/>
<text x="73.2" y="391.4" font-family='"Liberation Sans", sans-serif' font-size="11.4" fill="#111" stroke="#111" stroke-width="0.2">b=0</text>
<line x1="51.6" y1="400.1" x2="69.6" y2="400.1" stroke="#000" stroke-width="1.6" stroke-dasharray="6.2 2.2 1.6 2.2"/>
<text x="73.2" y="403.9" font-family='"Liberation Sans", sans-serif' font-size="11.4" fill="#111" stroke="#111" stroke-width="0.2">b=0.02</text>
<line x1="51.6" y1="412.6" x2="69.6" y2="412.6" stroke="#3535ff" stroke-width="1.6"/>
<text x="73.2" y="416.4" font-family='"Liberation Sans", sans-serif' font-size="11.4" fill="#111" stroke="#111" stroke-width="0.2">b=0.04</text>
<text transform="translate(127.53 481) scale(1.011 1)" font-family='"Liberation Serif", serif' font-size="15.1" font-weight="bold" fill="#111">(c)</text>
<text x="149.36" y="481.6" font-family='"Liberation Serif", serif' font-size="14.8" font-style="italic" fill="#111">α</text>
<line x1="162.5" y1="476.3" x2="171.7" y2="476.3" stroke="#222" stroke-width="0.75"/>
<line x1="162.5" y1="479.6" x2="171.7" y2="479.6" stroke="#222" stroke-width="0.75"/>
<text transform="translate(176.46 481.6) scale(1.007 1)" font-family='"Liberation Serif", serif' font-size="14.0" fill="#111">0.08</text>
<defs><clipPath id="clipd"><rect x="404.6" y="255.6" width="278.5" height="172.5"/></clipPath></defs>
<line x1="405.4" y1="334.08" x2="682.3" y2="334.08" stroke="#222" stroke-width="1"/>
<g clip-path="url(#clipd)" fill="none" stroke-width="1.6" stroke-linejoin="round">
<path d="M408.54 233.1 L408.91 245.89 L409.28 255.16 L409.89 263.07 L410.49 269.61 L410.99 277.14 L411.49 283.98 L412.23 290.72 L412.97 295.4 L413.52 297.71 L414.08 299.59 L414.63 301.18 L415.18 302.63 L415.74 304.1 L416.33 305.74 L416.92 307.35 L417.51 308.87 L418.1 310.22 L418.69 311.32 L419.25 312.19 L419.8 313 L420.35 313.76 L420.91 314.46 L421.46 315.11 L422.01 315.69 L422.57 316.21 L423.12 316.67 L423.68 317.07 L424.18 317.4 L424.69 317.72 L425.2 318.03 L425.71 318.33 L426.21 318.61 L426.72 318.89 L427.23 319.16 L427.74 319.41 L428.24 319.65 L428.75 319.88 L429.26 320.09 L429.77 320.3 L430.27 320.49 L430.78 320.66 L431.29 320.83 L431.8 320.97 L432.31 321.11 L432.81 321.23 L433.32 321.33 L433.83 321.42 L434.34 321.5 L434.85 321.57 L435.36 321.64 L435.88 321.71 L436.39 321.78 L436.9 321.84 L437.41 321.89 L437.92 321.95 L438.44 322 L438.95 322.05 L439.46 322.09 L439.97 322.14 L440.48 322.18 L440.99 322.22 L441.51 322.26 L442.02 322.29 L442.53 322.33 L443.04 322.37 L443.55 322.4 L444.07 322.44 L444.58 322.47 L445.09 322.51 L445.6 322.54 L446.12 322.58 L446.64 322.61 L447.15 322.65 L447.67 322.68 L448.18 322.71 L448.7 322.75 L449.21 322.78 L449.73 322.81 L450.25 322.84 L450.76 322.87 L451.28 322.9 L451.79 322.93 L452.31 322.96 L452.82 322.99 L453.34 323.02 L453.85 323.04 L454.37 323.07 L454.89 323.09 L455.4 323.12 L455.92 323.14 L456.43 323.16 L456.95 323.18 L457.46 323.2 L457.98 323.22 L458.49 323.24 L459.01 323.25 L459.53 323.27 L460.04 323.28 L460.55 323.3 L461.06 323.31 L461.56 323.32 L462.07 323.33 L462.58 323.35 L463.09 323.36 L463.6 323.37 L464.1 323.38 L464.61 323.39 L465.12 323.4 L465.63 323.41 L466.13 323.42 L466.64 323.43 L467.15 323.44 L467.66 323.45 L468.16 323.46 L468.67 323.46 L469.18 323.47 L469.69 323.48 L470.19 323.49 L470.7 323.5 L471.21 323.5 L471.72 323.51 L472.23 323.52 L472.73 323.52 L473.24 323.53 L473.75 323.54 L474.26 323.55 L474.76 323.55 L475.27 323.56 L475.78 323.57 L476.29 323.57 L476.79 323.58 L477.3 323.59 L477.81 323.59 L478.32 323.6 L478.82 323.61 L479.33 323.61 L479.84 323.62 L480.35 323.63 L480.86 323.63 L481.36 323.64 L481.87 323.65 L482.38 323.65 L482.89 323.66 L483.39 323.67 L483.9 323.68 L484.41 323.68 L484.92 323.69 L485.42 323.7 L485.93 323.71 L486.44 323.71 L486.95 323.72 L487.45 323.73 L487.96 323.74 L488.47 323.75 L488.97 323.76 L489.48 323.77 L489.98 323.78 L490.49 323.78 L490.99 323.79 L491.5 323.8 L492 323.81 L492.51 323.82 L493.01 323.82 L493.52 323.83 L494.02 323.84 L494.52 323.85 L495.03 323.85 L495.53 323.86 L496.04 323.87 L496.54 323.88 L497.05 323.88 L497.55 323.89 L498.06 323.9 L498.56 323.91 L499.07 323.91 L499.57 323.92 L500.08 323.93 L500.58 323.94 L501.08 323.95 L501.59 323.96 L502.09 323.97 L502.6 323.98 L503.1 323.99 L503.61 324 L504.11 324.01 L504.62 324.02 L505.12 324.03 L505.63 324.04 L506.13 324.06 L506.63 324.07 L507.14 324.08 L507.64 324.1 L508.15 324.11 L508.65 324.13 L509.16 324.14 L509.66 324.16 L510.17 324.18 L510.67 324.2 L511.18 324.22 L511.68 324.24 L512.18 324.26 L512.68 324.3 L513.19 324.33 L513.69 324.37 L514.19 324.42 L514.7 324.47 L515.2 324.52 L515.7 324.58 L516.2 324.64 L516.71 324.7 L517.21 324.77 L517.71 324.85 L518.22 324.92 L518.72 325 L519.22 325.08 L519.72 325.17 L520.23 325.26 L520.73 325.35 L521.23 325.44 L521.74 325.54 L522.24 325.64 L522.74 325.74 L523.24 325.84 L523.75 325.95 L524.25 326.06 L524.75 326.17 L525.26 326.28 L525.76 326.39 L526.29 326.52 L526.81 326.66 L527.34 326.81 L527.87 326.98 L528.4 327.16 L528.92 327.35 L529.45 327.55 L529.98 327.77 L530.51 327.99 L531.03 328.23 L531.56 328.47 L532.09 328.73 L532.62 328.99 L533.14 329.27 L533.66 329.55 L534.17 329.85 L534.69 330.17 L535.2 330.5 L535.71 330.86 L536.23 331.25 L536.74 331.65 L537.26 332.07 L537.77 332.52 L538.29 332.99 L538.8 333.48 L539.31 333.99 L539.83 334.53 L540.34 335.09 L540.9 335.74 L541.45 336.46 L542 337.24 L542.56 338.1 L543.11 339.04 L543.67 340.07 L544.22 341.18 L544.77 342.39 L545.33 343.82 L545.88 345.54 L546.43 347.49 L546.99 349.62 L547.63 352.61 L548.28 355.83 L548.83 358.96 L549.39 360.8 L549.94 354.59 L550.5 343.87 L551.05 333.63 L551.6 322.92 L552.16 314.74 L552.8 308.31 L553.45 304.56 L554.04 303.3 L554.63 302.34 L555.22 301.64 L555.81 301.15 L556.4 300.83 L556.68 300.73 L556.96 300.68 L557.48 301.12 L558 302.26 L558.53 303.82 L559.05 305.51 L559.57 307.04 L560.09 308.14 L560.62 308.89 L561.14 309.61 L561.66 310.29 L562.18 310.92 L562.7 311.5 L563.22 312.04 L563.74 312.54 L564.26 312.99 L564.78 313.39 L565.3 313.74 L565.82 314.04 L566.35 314.32 L566.89 314.6 L567.43 314.86 L567.97 315.11 L568.5 315.34 L569.04 315.54 L569.58 315.73 L570.11 315.88 L570.65 316 L571.19 316.09 L571.72 316.14 L572.26 316.16 L572.8 316.19 L573.34 316.21 L573.87 316.23 L574.41 316.24 L574.95 316.26 L575.48 316.27 L576.02 316.28 L576.56 316.29 L577.09 316.29 L577.63 316.29 L578.14 316.29 L578.64 316.26 L579.15 316.23 L579.65 316.18 L580.16 316.12 L580.67 316.05 L581.17 315.97 L581.68 315.88 L582.18 315.79 L582.69 315.68 L583.19 315.57 L583.7 315.46 L584.21 315.34 L584.71 315.23 L585.22 315.1 L585.72 314.98 L586.23 314.86 L586.73 314.74 L587.24 314.62 L587.74 314.51 L588.25 314.4 L588.76 314.29 L589.26 314.2 L589.76 314.1 L590.26 314 L590.76 313.91 L591.27 313.81 L591.77 313.71 L592.27 313.61 L592.77 313.51 L593.27 313.41 L593.77 313.31 L594.27 313.21 L594.77 313.11 L595.27 313.01 L595.78 312.91 L596.28 312.8 L596.78 312.7 L597.28 312.6 L597.78 312.5 L598.28 312.39 L598.78 312.29 L599.28 312.19 L599.78 312.09 L600.28 311.98 L600.79 311.88 L601.29 311.78 L601.79 311.68 L602.29 311.58 L602.79 311.48 L603.29 311.38 L603.79 311.28 L604.29 311.18 L604.79 311.08 L605.3 310.99 L605.8 310.89 L606.3 310.79 L606.8 310.7 L607.3 310.61 L607.8 310.51 L608.3 310.42 L608.8 310.33 L609.3 310.24 L609.8 310.15 L610.31 310.06 L610.81 309.97 L611.31 309.88 L611.81 309.8 L612.31 309.71 L612.81 309.62 L613.31 309.54 L613.81 309.45 L614.31 309.36 L614.82 309.28 L615.32 309.19 L615.82 309.1 L616.32 309.02 L616.82 308.93 L617.32 308.85 L617.82 308.76 L618.32 308.67 L618.82 308.59 L619.33 308.5 L619.83 308.41 L620.33 308.32 L620.83 308.23 L621.33 308.14 L621.83 308.05 L622.33 307.96 L622.83 307.87 L623.33 307.78 L623.83 307.69 L624.34 307.59 L624.85 307.5 L625.36 307.4 L625.87 307.3 L626.38 307.2 L626.9 307.09 L627.41 306.99 L627.92 306.89 L628.43 306.78 L628.94 306.68 L629.46 306.57 L629.97 306.47 L630.48 306.36 L630.99 306.25 L631.51 306.15 L632.02 306.04 L632.53 305.93 L633.04 305.83 L633.55 305.72 L634.07 305.62 L634.58 305.51 L635.09 305.41 L635.6 305.3 L636.11 305.2 L636.63 305.1 L637.14 304.99 L637.65 304.89 L638.16 304.79 L638.67 304.69 L639.19 304.6 L639.7 304.5 L640.21 304.41 L640.71 304.32 L641.21 304.23 L641.71 304.13 L642.21 304.04 L642.71 303.95 L643.21 303.86 L643.71 303.77 L644.21 303.68 L644.71 303.59 L645.21 303.5 L645.71 303.41 L646.21 303.32 L646.71 303.23 L647.21 303.14 L647.71 303.06 L648.21 302.97 L648.71 302.88 L649.21 302.79 L649.71 302.7 L650.21 302.61 L650.71 302.53 L651.21 302.44 L651.71 302.35 L652.21 302.26 L652.71 302.18 L653.21 302.09 L653.71 302 L654.22 301.92 L654.72 301.83 L655.22 301.75 L655.72 301.66 L656.22 301.58 L656.72 301.49 L657.22 301.41 L657.72 301.32 L658.22 301.24 L658.72 301.15 L659.22 301.07 L659.72 300.99 L660.22 300.9 L660.72 300.82 L661.22 300.74 L661.72 300.65 L662.22 300.57 L662.72 300.49 L663.22 300.41 L663.72 300.33 L664.22 300.25 L664.72 300.17 L665.22 300.09 L665.72 300.01 L666.22 299.93 L666.72 299.85 L667.22 299.77 L667.72 299.69 L668.22 299.61 L668.72 299.53 L669.22 299.45 L669.72 299.38 L670.22 299.3 L670.72 299.22 L671.22 299.15 L671.72 299.07 L672.22 298.99 L672.72 298.92 L673.22 298.84 L673.72 298.77 L674.22 298.69 L674.72 298.62 L675.22 298.55 L675.72 298.47 L676.22 298.4 L676.72 298.33 L677.22 298.25 L677.72 298.18 L678.22 298.11 L678.72 298.04 L679.22 297.97 L679.72 297.9 L680.22 297.83 L680.72 297.76 L681.22 297.69 L681.72 297.62 L682.22 297.55 L682.72 297.48 L683.22 297.42" stroke="#f00" stroke-dasharray="6.2 2.6"/>
<path d="M409.09 233.1 L409.51 245.64 L409.92 255.16 L410.48 262.96 L411.03 269.61 L411.54 277.35 L412.05 283.98 L412.63 288.77 L413.21 292.5 L413.8 295.4 L414.35 297.62 L414.91 299.52 L415.46 301.18 L416.01 302.68 L416.57 304.1 L417.14 305.52 L417.71 306.89 L418.28 308.17 L418.85 309.35 L419.41 310.41 L419.98 311.32 L420.52 312.09 L421.05 312.82 L421.59 313.51 L422.12 314.16 L422.66 314.77 L423.2 315.33 L423.73 315.85 L424.27 316.31 L424.8 316.72 L425.34 317.07 L425.86 317.38 L426.39 317.68 L426.91 317.96 L427.44 318.24 L427.96 318.5 L428.48 318.75 L429.01 318.99 L429.53 319.22 L430.06 319.44 L430.58 319.65 L431.11 319.84 L431.63 320.02 L432.16 320.19 L432.68 320.35 L433.21 320.49 L433.73 320.63 L434.26 320.75 L434.78 320.86 L435.31 320.95 L435.82 321.04 L436.34 321.12 L436.85 321.2 L437.36 321.28 L437.88 321.35 L438.39 321.42 L438.91 321.49 L439.42 321.55 L439.94 321.61 L440.45 321.67 L440.97 321.72 L441.48 321.77 L442 321.82 L442.51 321.86 L443.03 321.9 L443.54 321.94 L444.06 321.98 L444.57 322.01 L445.09 322.04 L445.6 322.07 L446.12 322.1 L446.64 322.13 L447.15 322.15 L447.67 322.18 L448.18 322.2 L448.7 322.23 L449.21 322.25 L449.73 322.27 L450.25 322.29 L450.76 322.31 L451.28 322.33 L451.79 322.35 L452.31 322.37 L452.82 322.39 L453.34 322.41 L453.85 322.42 L454.37 322.44 L454.89 322.46 L455.4 322.47 L455.92 322.49 L456.43 322.5 L456.95 322.51 L457.46 322.53 L457.98 322.54 L458.49 322.55 L459.01 322.56 L459.53 322.57 L460.04 322.58 L460.55 322.6 L461.06 322.61 L461.56 322.62 L462.07 322.62 L462.58 322.63 L463.09 322.64 L463.6 322.65 L464.1 322.66 L464.61 322.67 L465.12 322.67 L465.63 322.68 L466.13 322.69 L466.64 322.7 L467.15 322.7 L467.66 322.71 L468.16 322.72 L468.67 322.72 L469.18 322.73 L469.69 322.74 L470.19 322.74 L470.7 322.75 L471.21 322.75 L471.72 322.76 L472.23 322.76 L472.73 322.77 L473.24 322.77 L473.75 322.78 L474.26 322.79 L474.76 322.79 L475.27 322.8 L475.78 322.8 L476.29 322.81 L476.79 322.81 L477.3 322.82 L477.81 322.82 L478.32 322.83 L478.82 322.83 L479.33 322.84 L479.84 322.85 L480.35 322.85 L480.86 322.86 L481.36 322.86 L481.87 322.87 L482.38 322.88 L482.89 322.88 L483.39 322.89 L483.9 322.9 L484.41 322.91 L484.92 322.91 L485.42 322.92 L485.93 322.93 L486.44 322.94 L486.95 322.95 L487.45 322.95 L487.96 322.96 L488.47 322.97 L488.97 322.98 L489.48 322.99 L489.98 323 L490.49 323.01 L490.99 323.02 L491.49 323.03 L492 323.04 L492.5 323.05 L493.01 323.06 L493.51 323.07 L494.01 323.07 L494.52 323.08 L495.02 323.09 L495.52 323.1 L496.03 323.11 L496.53 323.12 L497.04 323.13 L497.54 323.14 L498.04 323.15 L498.55 323.16 L499.05 323.17 L499.56 323.18 L500.06 323.19 L500.56 323.2 L501.07 323.21 L501.57 323.22 L502.08 323.23 L502.58 323.24 L503.08 323.26 L503.59 323.27 L504.09 323.28 L504.6 323.29 L505.1 323.3 L505.6 323.32 L506.11 323.33 L506.61 323.34 L507.11 323.36 L507.62 323.37 L508.12 323.39 L508.63 323.4 L509.13 323.42 L509.63 323.43 L510.14 323.45 L510.64 323.46 L511.15 323.48 L511.65 323.5 L512.15 323.52 L512.66 323.53 L513.16 323.55 L513.67 323.57 L514.17 323.59 L514.67 323.61 L515.18 323.63 L515.68 323.66 L516.18 323.68 L516.69 323.7 L517.19 323.72 L517.7 323.75 L518.2 323.77 L518.7 323.8 L519.21 323.82 L519.71 323.85 L520.22 323.87 L520.72 323.9 L521.22 323.93 L521.73 323.96 L522.23 323.99 L522.74 324.02 L523.24 324.05 L523.74 324.08 L524.25 324.11 L524.75 324.15 L525.26 324.18 L525.76 324.22 L526.26 324.26 L526.77 324.32 L527.28 324.39 L527.78 324.47 L528.29 324.57 L528.79 324.68 L529.3 324.8 L529.8 324.93 L530.31 325.07 L530.82 325.22 L531.32 325.38 L531.83 325.55 L532.33 325.73 L532.84 325.91 L533.34 326.1 L533.85 326.3 L534.36 326.5 L534.86 326.71 L535.37 326.92 L535.87 327.13 L536.38 327.35 L536.88 327.57 L537.39 327.79 L537.92 328.03 L538.44 328.29 L538.97 328.57 L539.5 328.87 L540.03 329.19 L540.55 329.52 L541.08 329.88 L541.61 330.26 L542.14 330.65 L542.66 331.07 L543.19 331.5 L543.72 331.95 L544.25 332.43 L544.77 332.92 L545.3 333.45 L545.83 334.03 L546.37 334.68 L546.9 335.37 L547.43 336.13 L547.96 336.94 L548.49 337.81 L549.02 338.74 L549.54 339.69 L550.06 340.69 L550.59 341.81 L551.11 343.15 L551.63 344.76 L552.16 346.74 L552.71 350.2 L553.26 355.33 L553.82 361.27 L554.37 369.04 L554.93 376.73 L555.48 382.42 L556.03 387.52 L556.59 391.76 L557.14 394.83 L557.66 374.46 L558.19 354.1 L558.71 333.73 L559.23 313.37 L559.76 293 L560.28 272.64 L560.74 284.33 L561.2 291.82 L561.8 295.47 L562.4 297.95 L563 299.69 L563.6 301.14 L564.1 302.28 L564.6 303.29 L565.11 304.19 L565.61 304.99 L566.11 305.72 L566.61 306.4 L567.11 307.05 L567.62 307.68 L568.14 308.29 L568.65 308.87 L569.16 309.42 L569.67 309.93 L570.19 310.41 L570.7 310.86 L571.21 311.27 L571.72 311.63 L572.26 311.99 L572.8 312.33 L573.34 312.66 L573.87 312.97 L574.41 313.27 L574.95 313.54 L575.48 313.8 L576.02 314.03 L576.56 314.24 L577.09 314.43 L577.63 314.58 L578.17 314.73 L578.71 314.87 L579.24 315.01 L579.78 315.14 L580.32 315.27 L580.85 315.38 L581.39 315.48 L581.93 315.56 L582.46 315.62 L583 315.66 L583.54 315.67 L584.04 315.67 L584.55 315.66 L585.06 315.64 L585.56 315.62 L586.07 315.59 L586.57 315.56 L587.08 315.53 L587.58 315.49 L588.09 315.44 L588.6 315.39 L589.1 315.34 L589.61 315.29 L590.11 315.23 L590.62 315.17 L591.12 315.11 L591.63 315.04 L592.13 314.98 L592.64 314.91 L593.15 314.85 L593.65 314.78 L594.16 314.71 L594.66 314.65 L595.17 314.58 L595.67 314.52 L596.17 314.44 L596.67 314.37 L597.17 314.28 L597.67 314.2 L598.18 314.11 L598.68 314.01 L599.18 313.91 L599.68 313.81 L600.18 313.7 L600.68 313.59 L601.18 313.48 L601.68 313.37 L602.18 313.25 L602.68 313.13 L603.19 313.01 L603.69 312.89 L604.19 312.76 L604.69 312.64 L605.19 312.51 L605.69 312.38 L606.19 312.26 L606.69 312.13 L607.19 312 L607.7 311.88 L608.2 311.75 L608.7 311.63 L609.2 311.51 L609.7 311.38 L610.2 311.26 L610.7 311.15 L611.2 311.03 L611.7 310.92 L612.2 310.81 L612.71 310.7 L613.21 310.59 L613.71 310.49 L614.21 310.38 L614.71 310.28 L615.21 310.17 L615.71 310.07 L616.21 309.96 L616.71 309.86 L617.21 309.75 L617.71 309.65 L618.21 309.55 L618.71 309.44 L619.21 309.34 L619.71 309.24 L620.21 309.13 L620.71 309.03 L621.21 308.93 L621.71 308.82 L622.21 308.72 L622.71 308.62 L623.21 308.52 L623.71 308.42 L624.21 308.31 L624.71 308.21 L625.21 308.11 L625.71 308.01 L626.21 307.91 L626.71 307.81 L627.21 307.71 L627.71 307.61 L628.21 307.51 L628.71 307.41 L629.21 307.31 L629.71 307.21 L630.21 307.11 L630.71 307.01 L631.21 306.91 L631.71 306.81 L632.21 306.72 L632.71 306.62 L633.21 306.52 L633.71 306.42 L634.21 306.33 L634.71 306.23 L635.21 306.13 L635.71 306.04 L636.21 305.94 L636.71 305.85 L637.21 305.75 L637.71 305.66 L638.21 305.56 L638.71 305.47 L639.21 305.37 L639.71 305.28 L640.21 305.18 L640.71 305.09 L641.21 305 L641.71 304.9 L642.21 304.81 L642.71 304.72 L643.21 304.63 L643.71 304.53 L644.21 304.44 L644.71 304.35 L645.21 304.26 L645.71 304.16 L646.21 304.07 L646.71 303.98 L647.21 303.89 L647.71 303.8 L648.21 303.7 L648.71 303.61 L649.21 303.52 L649.71 303.43 L650.21 303.34 L650.71 303.25 L651.21 303.16 L651.71 303.07 L652.21 302.98 L652.71 302.89 L653.21 302.8 L653.71 302.71 L654.22 302.62 L654.72 302.53 L655.22 302.44 L655.72 302.35 L656.22 302.26 L656.72 302.17 L657.22 302.08 L657.72 302 L658.22 301.91 L658.72 301.82 L659.22 301.73 L659.72 301.64 L660.22 301.56 L660.72 301.47 L661.22 301.38 L661.72 301.29 L662.22 301.21 L662.72 301.12 L663.22 301.03 L663.72 300.95 L664.22 300.86 L664.72 300.77 L665.22 300.69 L665.72 300.6 L666.22 300.52 L666.72 300.43 L667.22 300.35 L667.72 300.26 L668.22 300.18 L668.72 300.09 L669.22 300.01 L669.72 299.92 L670.22 299.84 L670.72 299.76 L671.22 299.67 L671.72 299.59 L672.22 299.51 L672.72 299.42 L673.22 299.34 L673.72 299.26 L674.22 299.17 L674.72 299.09 L675.22 299.01 L675.72 298.93 L676.22 298.85 L676.72 298.77 L677.22 298.68 L677.72 298.6 L678.22 298.52 L678.72 298.44 L679.22 298.36 L679.72 298.28 L680.22 298.2 L680.72 298.12 L681.22 298.04 L681.72 297.96 L682.22 297.88 L682.72 297.81 L683.22 297.73" stroke="#000" stroke-dasharray="6.2 2.2 1.6 2.2"/>
<path d="M409.46 233.1 L409.98 245.11 L410.49 255.16 L410.99 262.75 L411.49 269.61 L412 277.51 L412.51 283.98 L413.15 288.83 L413.8 292.49 L414.45 295.4 L415 297.56 L415.55 299.47 L416.11 301.17 L416.66 302.7 L417.21 304.1 L417.74 305.35 L418.27 306.55 L418.8 307.67 L419.32 308.72 L419.85 309.68 L420.38 310.55 L420.91 311.32 L421.43 312.02 L421.95 312.68 L422.47 313.32 L422.99 313.93 L423.51 314.5 L424.03 315.03 L424.55 315.53 L425.07 315.98 L425.59 316.39 L426.11 316.76 L426.63 317.07 L427.14 317.35 L427.64 317.61 L428.15 317.87 L428.66 318.11 L429.17 318.35 L429.67 318.57 L430.18 318.79 L430.69 318.99 L431.2 319.19 L431.71 319.37 L432.21 319.55 L432.72 319.71 L433.23 319.87 L433.74 320.02 L434.24 320.16 L434.75 320.29 L435.26 320.41 L435.77 320.52 L436.27 320.63 L436.78 320.72 L437.3 320.81 L437.82 320.9 L438.34 320.98 L438.86 321.06 L439.38 321.14 L439.9 321.21 L440.42 321.28 L440.94 321.35 L441.45 321.41 L441.97 321.47 L442.49 321.52 L443.01 321.57 L443.53 321.62 L444.05 321.66 L444.57 321.7 L445.09 321.73 L445.6 321.76 L446.12 321.79 L446.64 321.82 L447.15 321.84 L447.67 321.87 L448.18 321.9 L448.7 321.92 L449.21 321.94 L449.73 321.97 L450.25 321.99 L450.76 322.01 L451.28 322.03 L451.79 322.05 L452.31 322.07 L452.82 322.09 L453.34 322.11 L453.85 322.12 L454.37 322.14 L454.89 322.15 L455.4 322.17 L455.92 322.18 L456.43 322.2 L456.95 322.21 L457.46 322.22 L457.98 322.23 L458.49 322.24 L459.01 322.25 L459.53 322.26 L460.04 322.27 L460.55 322.28 L461.06 322.29 L461.56 322.3 L462.07 322.31 L462.58 322.32 L463.09 322.33 L463.6 322.33 L464.1 322.34 L464.61 322.35 L465.12 322.36 L465.63 322.36 L466.13 322.37 L466.64 322.38 L467.15 322.38 L467.66 322.39 L468.16 322.4 L468.67 322.41 L469.18 322.41 L469.69 322.42 L470.19 322.42 L470.7 322.43 L471.21 322.44 L471.72 322.44 L472.23 322.45 L472.73 322.45 L473.24 322.46 L473.75 322.46 L474.26 322.47 L474.76 322.47 L475.27 322.48 L475.78 322.48 L476.29 322.49 L476.79 322.49 L477.3 322.5 L477.81 322.5 L478.32 322.51 L478.82 322.51 L479.33 322.52 L479.84 322.52 L480.35 322.53 L480.86 322.53 L481.36 322.53 L481.87 322.54 L482.38 322.54 L482.89 322.55 L483.39 322.55 L483.9 322.55 L484.41 322.56 L484.92 322.56 L485.42 322.56 L485.93 322.57 L486.44 322.57 L486.95 322.57 L487.45 322.58 L487.96 322.58 L488.47 322.58 L488.98 322.59 L489.49 322.59 L490 322.59 L490.51 322.6 L491.02 322.6 L491.53 322.6 L492.05 322.6 L492.56 322.61 L493.07 322.61 L493.58 322.61 L494.09 322.61 L494.6 322.61 L495.11 322.62 L495.62 322.62 L496.13 322.62 L496.64 322.62 L497.15 322.62 L497.66 322.63 L498.17 322.63 L498.68 322.63 L499.2 322.63 L499.71 322.64 L500.22 322.64 L500.73 322.64 L501.24 322.64 L501.75 322.65 L502.26 322.65 L502.77 322.65 L503.28 322.66 L503.79 322.66 L504.3 322.67 L504.81 322.67 L505.32 322.68 L505.84 322.69 L506.35 322.7 L506.86 322.71 L507.37 322.72 L507.88 322.73 L508.39 322.74 L508.9 322.75 L509.41 322.77 L509.92 322.78 L510.43 322.8 L510.94 322.81 L511.45 322.83 L511.97 322.85 L512.48 322.87 L512.99 322.89 L513.5 322.91 L514.01 322.93 L514.52 322.95 L515.03 322.98 L515.54 323 L516.05 323.03 L516.56 323.05 L517.07 323.08 L517.59 323.11 L518.1 323.14 L518.61 323.17 L519.12 323.2 L519.63 323.23 L520.14 323.26 L520.65 323.29 L521.16 323.33 L521.67 323.36 L522.18 323.4 L522.69 323.43 L523.2 323.47 L523.72 323.51 L524.23 323.55 L524.74 323.59 L525.25 323.63 L525.76 323.67 L526.26 323.72 L526.77 323.77 L527.28 323.84 L527.78 323.91 L528.29 323.99 L528.79 324.08 L529.3 324.17 L529.8 324.28 L530.31 324.38 L530.82 324.5 L531.32 324.62 L531.83 324.74 L532.33 324.88 L532.84 325.01 L533.34 325.15 L533.85 325.3 L534.36 325.44 L534.86 325.6 L535.37 325.75 L535.87 325.91 L536.38 326.07 L536.88 326.23 L537.39 326.39 L537.92 326.57 L538.44 326.76 L538.97 326.96 L539.5 327.18 L540.03 327.41 L540.55 327.64 L541.08 327.9 L541.61 328.16 L542.14 328.43 L542.66 328.72 L543.19 329.01 L543.72 329.32 L544.25 329.64 L544.77 329.96 L545.29 330.3 L545.81 330.64 L546.32 331.01 L546.84 331.39 L547.36 331.81 L547.87 332.25 L548.39 332.72 L548.91 333.24 L549.42 333.79 L549.94 334.39 L550.44 335.05 L550.94 335.82 L551.44 336.68 L551.95 337.64 L552.45 338.68 L552.95 339.8 L553.45 341 L554 342.35 L554.56 343.85 L555.11 345.76 L555.66 348.3 L556.4 355.13 L557.14 365.15 L557.79 375.96 L558.43 388.07 L559.05 399.2 L559.66 410.46 L560.28 421.86 L560.81 399.21 L561.33 376.56 L561.86 353.91 L562.39 331.26 L562.92 308.61 L563.44 285.96 L563.97 263.31 L564.71 272.62 L565.45 280.17 L566 284.69 L566.56 288.57 L567.11 291.82 L567.66 294.67 L568.22 297.25 L568.77 299.45 L569.32 301.14 L569.86 302.44 L570.39 303.6 L570.92 304.65 L571.46 305.6 L571.99 306.47 L572.52 307.25 L573.06 307.98 L573.59 308.66 L574.12 309.3 L574.66 309.93 L575.2 310.54 L575.74 311.13 L576.27 311.7 L576.81 312.23 L577.35 312.73 L577.88 313.19 L578.42 313.61 L578.96 313.99 L579.49 314.31 L580.03 314.58 L580.54 314.81 L581.06 315.04 L581.57 315.26 L582.08 315.48 L582.6 315.68 L583.11 315.88 L583.62 316.08 L584.13 316.26 L584.65 316.42 L585.16 316.58 L585.67 316.72 L586.18 316.85 L586.7 316.96 L587.21 317.05 L587.72 317.13 L588.24 317.18 L588.75 317.21 L589.26 317.22 L589.8 317.21 L590.34 317.18 L590.87 317.12 L591.41 317.04 L591.95 316.96 L592.48 316.86 L593.02 316.75 L593.56 316.63 L594.09 316.52 L594.63 316.4 L595.17 316.29 L595.67 316.19 L596.18 316.07 L596.69 315.95 L597.19 315.81 L597.7 315.68 L598.2 315.53 L598.71 315.38 L599.21 315.22 L599.72 315.06 L600.23 314.9 L600.73 314.73 L601.24 314.56 L601.74 314.39 L602.25 314.22 L602.75 314.05 L603.26 313.89 L603.76 313.72 L604.27 313.55 L604.78 313.39 L605.28 313.24 L605.79 313.08 L606.29 312.94 L606.8 312.8 L607.3 312.66 L607.81 312.52 L608.32 312.39 L608.82 312.26 L609.33 312.12 L609.83 311.99 L610.34 311.86 L610.84 311.73 L611.35 311.6 L611.86 311.47 L612.36 311.35 L612.87 311.22 L613.37 311.1 L613.88 310.97 L614.38 310.85 L614.89 310.73 L615.39 310.61 L615.9 310.49 L616.41 310.38 L616.91 310.26 L617.42 310.15 L617.92 310.03 L618.43 309.92 L618.94 309.81 L619.46 309.7 L619.97 309.6 L620.48 309.49 L621 309.39 L621.51 309.29 L622.02 309.19 L622.54 309.09 L623.05 309 L623.57 308.9 L624.08 308.8 L624.59 308.71 L625.11 308.61 L625.62 308.51 L626.13 308.42 L626.65 308.32 L627.16 308.22 L627.67 308.12 L628.19 308.02 L628.7 307.92 L629.22 307.81 L629.73 307.7 L630.24 307.59 L630.77 307.48 L631.29 307.35 L631.82 307.23 L632.34 307.1 L632.87 306.97 L633.39 306.84 L633.92 306.7 L634.44 306.57 L634.96 306.43 L635.49 306.3 L636.01 306.16 L636.54 306.03 L637.06 305.9 L637.59 305.77 L638.11 305.64 L638.64 305.52 L639.16 305.4 L639.69 305.29 L640.21 305.18 L640.71 305.08 L641.21 304.99 L641.71 304.89 L642.21 304.79 L642.71 304.69 L643.21 304.59 L643.71 304.49 L644.21 304.39 L644.71 304.3 L645.21 304.2 L645.71 304.1 L646.21 304 L646.71 303.91 L647.21 303.81 L647.71 303.72 L648.21 303.62 L648.71 303.53 L649.21 303.43 L649.71 303.34 L650.21 303.24 L650.71 303.15 L651.21 303.06 L651.71 302.96 L652.21 302.87 L652.71 302.78 L653.21 302.69 L653.71 302.6 L654.22 302.51 L654.72 302.42 L655.22 302.33 L655.72 302.24 L656.22 302.15 L656.72 302.06 L657.22 301.97 L657.72 301.89 L658.22 301.8 L658.72 301.71 L659.22 301.63 L659.72 301.54 L660.22 301.46 L660.72 301.38 L661.22 301.29 L661.72 301.21 L662.22 301.13 L662.72 301.05 L663.22 300.97 L663.72 300.89 L664.22 300.81 L664.72 300.73 L665.22 300.65 L665.72 300.58 L666.22 300.5 L666.72 300.43 L667.22 300.35 L667.72 300.28 L668.22 300.2 L668.72 300.13 L669.22 300.06 L669.72 299.99 L670.22 299.92 L670.72 299.85 L671.22 299.78 L671.72 299.72 L672.22 299.65 L672.72 299.58 L673.22 299.52 L673.72 299.45 L674.22 299.39 L674.72 299.33 L675.22 299.27 L675.72 299.21 L676.22 299.15 L676.72 299.09 L677.22 299.03 L677.72 298.98 L678.22 298.92 L678.72 298.87 L679.22 298.81 L679.72 298.76 L680.22 298.71 L680.72 298.66 L681.22 298.61 L681.72 298.56 L682.22 298.52 L682.72 298.47 L683.22 298.43" stroke="#00f"/>
</g>
<path d="M405.4 427.3 v-4 M405.4 256.4 v4 M414.63 427.3 v-2 M414.63 256.4 v2 M423.86 427.3 v-2 M423.86 256.4 v2 M433.09 427.3 v-2 M433.09 256.4 v2 M442.32 427.3 v-4 M442.32 256.4 v4 M451.55 427.3 v-2 M451.55 256.4 v2 M460.78 427.3 v-2 M460.78 256.4 v2 M470.01 427.3 v-2 M470.01 256.4 v2 M479.24 427.3 v-4 M479.24 256.4 v4 M488.47 427.3 v-2 M488.47 256.4 v2 M497.7 427.3 v-2 M497.7 256.4 v2 M506.93 427.3 v-2 M506.93 256.4 v2 M516.16 427.3 v-4 M516.16 256.4 v4 M525.39 427.3 v-2 M525.39 256.4 v2 M534.62 427.3 v-2 M534.62 256.4 v2 M543.85 427.3 v-2 M543.85 256.4 v2 M553.08 427.3 v-4 M553.08 256.4 v4 M562.31 427.3 v-2 M562.31 256.4 v2 M571.54 427.3 v-2 M571.54 256.4 v2 M580.77 427.3 v-2 M580.77 256.4 v2 M590 427.3 v-4 M590 256.4 v4 M599.23 427.3 v-2 M599.23 256.4 v2 M608.46 427.3 v-2 M608.46 256.4 v2 M617.69 427.3 v-2 M617.69 256.4 v2 M626.92 427.3 v-4 M626.92 256.4 v4 M636.15 427.3 v-2 M636.15 256.4 v2 M645.38 427.3 v-2 M645.38 256.4 v2 M654.61 427.3 v-2 M654.61 256.4 v2 M663.84 427.3 v-4 M663.84 256.4 v4 M673.07 427.3 v-2 M673.07 256.4 v2 M682.3 427.3 v-2 M682.3 256.4 v2 M405.4 427.3 h2 M682.3 427.3 h-2 M405.4 419.53 h2 M682.3 419.53 h-2 M405.4 411.76 h4 M682.3 411.76 h-4 M405.4 404 h2 M682.3 404 h-2 M405.4 396.23 h2 M682.3 396.23 h-2 M405.4 388.46 h2 M682.3 388.46 h-2 M405.4 380.69 h2 M682.3 380.69 h-2 M405.4 372.92 h4 M682.3 372.92 h-4 M405.4 365.15 h2 M682.3 365.15 h-2 M405.4 357.39 h2 M682.3 357.39 h-2 M405.4 349.62 h2 M682.3 349.62 h-2 M405.4 341.85 h2 M682.3 341.85 h-2 M405.4 334.08 h4 M682.3 334.08 h-4 M405.4 326.31 h2 M682.3 326.31 h-2 M405.4 318.55 h2 M682.3 318.55 h-2 M405.4 310.78 h2 M682.3 310.78 h-2 M405.4 303.01 h2 M682.3 303.01 h-2 M405.4 295.24 h4 M682.3 295.24 h-4 M405.4 287.47 h2 M682.3 287.47 h-2 M405.4 279.7 h2 M682.3 279.7 h-2 M405.4 271.94 h2 M682.3 271.94 h-2 M405.4 264.17 h2 M682.3 264.17 h-2 M405.4 256.4 h4 M682.3 256.4 h-4" stroke="#333" stroke-width="0.9" fill="none"/>
<rect x="405.4" y="256.4" width="276.9" height="170.9" fill="none" stroke="#222" stroke-width="1"/>
<g font-family='"Liberation Sans", sans-serif' font-size="12.6" fill="#111" stroke="#111" stroke-width="0.25">
<text x="401.9" y="441.7">0</text>
<text x="438.82" y="441.7">2</text>
<text x="475.74" y="441.7">4</text>
<text x="512.66" y="441.7">6</text>
<text x="549.58" y="441.7">8</text>
<text x="582.99" y="441.7"> 0</text><path transform="translate(582.99 441.7) scale(0.00615 -0.00615)" d="M763 0H583V1098Q518 1038 412 979Q306 920 222 890V1057Q373 1124 486 1221Q599 1318 646 1409H763Z" stroke-width="40.63"/>
<text x="619.91" y="441.7"> 2</text><path transform="translate(619.91 441.7) scale(0.00615 -0.00615)" d="M763 0H583V1098Q518 1038 412 979Q306 920 222 890V1057Q373 1124 486 1221Q599 1318 646 1409H763Z" stroke-width="40.63"/>
<text x="656.83" y="441.7"> 4</text><path transform="translate(656.83 441.7) scale(0.00615 -0.00615)" d="M763 0H583V1098Q518 1038 412 979Q306 920 222 890V1057Q373 1124 486 1221Q599 1318 646 1409H763Z" stroke-width="40.63"/>
<text x="373.72" y="416.26">− 00</text><path transform="translate(381.08 416.26) scale(0.00615 -0.00615)" d="M763 0H583V1098Q518 1038 412 979Q306 920 222 890V1057Q373 1124 486 1221Q599 1318 646 1409H763Z" stroke-width="40.63"/>
<text x="380.73" y="377.42">−50</text>
<text x="395.09" y="338.58">0</text>
<text x="388.08" y="299.74">50</text>
<text x="381.08" y="260.9"> 00</text><path transform="translate(381.08 260.9) scale(0.00615 -0.00615)" d="M763 0H583V1098Q518 1038 412 979Q306 920 222 890V1057Q373 1124 486 1221Q599 1318 646 1409H763Z" stroke-width="40.63"/>
</g>
<g fill="#111" stroke="#111" stroke-width="0.2" font-family='"Liberation Sans", sans-serif'>
<text transform="translate(363.2 0) rotate(-90)" x="-357.46" y="0" font-size="12.6">Im</text>
<text transform="translate(363.4 0) rotate(-90)" x="-342.71" y="0" font-size="11.5">[</text>
<text transform="translate(364.5 0) rotate(-90) scale(1.14 1)" x="-297.49" y="0" font-size="12.0" font-style="italic">σ</text>
<text transform="translate(363.4 0) rotate(-90)" x="-329.85" y="0" font-size="11.5">]</text>
</g>
<text x="530" y="462.6" font-family='"Liberation Sans", sans-serif' font-size="11.9" font-style="italic" fill="#111" stroke="#111" stroke-width="0.2">ω</text>
<line x1="539.3" y1="464.9" x2="543" y2="453.8" stroke="#222" stroke-width="1.05"/>
<text x="544.1" y="462.3" font-family='"Liberation Sans", sans-serif' font-size="13" font-style="italic" fill="#111" stroke="#111" stroke-width="0.2">T<tspan font-size="9.6" dy="2.6">c</tspan></text>
<line x1="412.6" y1="388.1" x2="428.1" y2="388.1" stroke="#ff2424" stroke-width="1.6" stroke-dasharray="6.2 2.6"/>
<text x="434.2" y="391.9" font-family='"Liberation Sans", sans-serif' font-size="11.4" fill="#111" stroke="#111" stroke-width="0.2">b=0</text>
<line x1="412.6" y1="400.55" x2="430.6" y2="400.55" stroke="#000" stroke-width="1.6" stroke-dasharray="6.2 2.2 1.6 2.2"/>
<text x="434.2" y="404.35" font-family='"Liberation Sans", sans-serif' font-size="11.4" fill="#111" stroke="#111" stroke-width="0.2">b=0.02</text>
<line x1="412.6" y1="413" x2="430.6" y2="413" stroke="#3535ff" stroke-width="1.6"/>
<text x="434.2" y="416.8" font-family='"Liberation Sans", sans-serif' font-size="11.4" fill="#111" stroke="#111" stroke-width="0.2">b=0.04</text>
<text transform="translate(474.56 481) scale(1.110 1)" font-family='"Liberation Serif", serif' font-size="15.1" font-weight="bold" fill="#111">(d)</text>
<text x="498.56" y="481.6" font-family='"Liberation Serif", serif' font-size="14.8" font-style="italic" fill="#111">α</text>
<line x1="511.8" y1="476.3" x2="521.2" y2="476.3" stroke="#222" stroke-width="0.75"/>
<line x1="511.8" y1="479.6" x2="521.2" y2="479.6" stroke="#222" stroke-width="0.75"/>
<line x1="526.4" y1="477.95" x2="535.2" y2="477.95" stroke="#222" stroke-width="0.75"/>
<text transform="translate(535.44 481.6) scale(1.054 1)" font-family='"Liberation Serif", serif' font-size="14.0" fill="#111">0.08</text>
</svg></body></html>
